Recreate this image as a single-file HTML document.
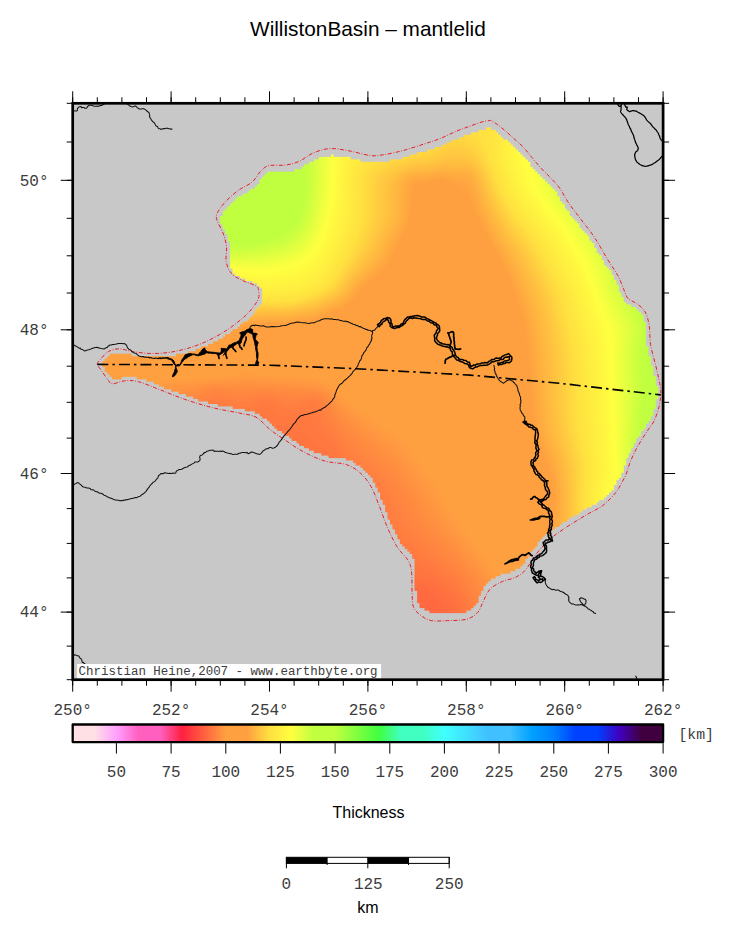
<!DOCTYPE html>
<html><head><meta charset="utf-8"><title>WillistonBasin - mantlelid</title>
<style>
html,body{margin:0;padding:0;background:#fff;overflow:hidden}
svg{display:block}
.mono{font-family:'Liberation Mono','DejaVu Sans Mono',monospace;font-size:16px;fill:#3c3c3c}
.sans{font-family:'Liberation Sans','DejaVu Sans',sans-serif;fill:#000}
</style></head><body>
<svg width="731" height="934" viewBox="0 0 731 934">
<defs>
<clipPath id="frame"><rect x="72.7" y="103.3" width="590.4" height="576.4"/></clipPath>
<clipPath id="basin"><rect x="486" y="127.4" width="4.9" height="3.5"/><rect x="478.6" y="129.9" width="17.2" height="3.5"/><rect x="471.2" y="132.3" width="27.1" height="3.5"/><rect x="463.8" y="134.8" width="36.9" height="3.5"/><rect x="458.9" y="137.2" width="44.3" height="3.5"/><rect x="451.5" y="139.7" width="56.6" height="3.5"/><rect x="446.6" y="142.2" width="64" height="3.5"/><rect x="441.7" y="144.6" width="71.3" height="3.5"/><rect x="434.3" y="147.1" width="81.2" height="3.5"/><rect x="426.9" y="149.5" width="91" height="3.5"/><rect x="417.1" y="152" width="103.3" height="3.5"/><rect x="331" y="154.5" width="2.5" height="3.5"/><rect x="409.7" y="154.5" width="113.2" height="3.5"/><rect x="318.7" y="156.9" width="32" height="3.5"/><rect x="402.3" y="156.9" width="123" height="3.5"/><rect x="313.8" y="159.4" width="46.7" height="3.5"/><rect x="390" y="159.4" width="137.8" height="3.5"/><rect x="308.9" y="161.8" width="221.4" height="3.5"/><rect x="303.9" y="164.3" width="226.3" height="3.5"/><rect x="301.5" y="166.8" width="231.2" height="3.5"/><rect x="294.1" y="169.2" width="241.1" height="3.5"/><rect x="267" y="171.7" width="270.6" height="3.5"/><rect x="264.6" y="174.1" width="275.5" height="3.5"/><rect x="262.1" y="176.6" width="280.4" height="3.5"/><rect x="259.7" y="179.1" width="285.4" height="3.5"/><rect x="259.7" y="181.5" width="287.8" height="3.5"/><rect x="257.2" y="184" width="292.7" height="3.5"/><rect x="254.7" y="186.4" width="297.7" height="3.5"/><rect x="249.8" y="188.9" width="305" height="3.5"/><rect x="247.4" y="191.4" width="310" height="3.5"/><rect x="242.4" y="193.8" width="314.9" height="3.5"/><rect x="237.5" y="196.3" width="322.3" height="3.5"/><rect x="235.1" y="198.7" width="324.7" height="3.5"/><rect x="232.6" y="201.2" width="329.6" height="3.5"/><rect x="230.1" y="203.7" width="334.6" height="3.5"/><rect x="227.7" y="206.1" width="337" height="3.5"/><rect x="225.2" y="208.6" width="341.9" height="3.5"/><rect x="222.8" y="211" width="346.9" height="3.5"/><rect x="222.8" y="213.5" width="346.9" height="3.5"/><rect x="220.3" y="216" width="351.8" height="3.5"/><rect x="220.3" y="218.4" width="354.2" height="3.5"/><rect x="220.3" y="220.9" width="356.7" height="3.5"/><rect x="222.8" y="223.3" width="356.7" height="3.5"/><rect x="222.8" y="225.8" width="356.7" height="3.5"/><rect x="225.2" y="228.3" width="356.7" height="3.5"/><rect x="225.2" y="230.7" width="359.2" height="3.5"/><rect x="227.7" y="233.2" width="359.2" height="3.5"/><rect x="227.7" y="235.6" width="361.6" height="3.5"/><rect x="227.7" y="238.1" width="361.6" height="3.5"/><rect x="230.1" y="240.6" width="361.6" height="3.5"/><rect x="230.1" y="243" width="364.1" height="3.5"/><rect x="230.1" y="245.5" width="364.1" height="3.5"/><rect x="230.1" y="247.9" width="366.5" height="3.5"/><rect x="230.1" y="250.4" width="366.5" height="3.5"/><rect x="230.1" y="252.9" width="369" height="3.5"/><rect x="230.1" y="255.3" width="371.5" height="3.5"/><rect x="230.1" y="257.8" width="371.5" height="3.5"/><rect x="230.1" y="260.2" width="373.9" height="3.5"/><rect x="230.1" y="262.7" width="373.9" height="3.5"/><rect x="230.1" y="265.2" width="376.4" height="3.5"/><rect x="232.6" y="267.6" width="376.4" height="3.5"/><rect x="232.6" y="270.1" width="378.8" height="3.5"/><rect x="235.1" y="272.5" width="376.4" height="3.5"/><rect x="240" y="275" width="373.9" height="3.5"/><rect x="244.9" y="277.5" width="369" height="3.5"/><rect x="252.3" y="279.9" width="364.1" height="3.5"/><rect x="257.2" y="282.4" width="359.2" height="3.5"/><rect x="259.7" y="284.8" width="359.2" height="3.5"/><rect x="262.1" y="287.3" width="356.7" height="3.5"/><rect x="262.1" y="289.8" width="356.7" height="3.5"/><rect x="262.1" y="292.2" width="359.2" height="3.5"/><rect x="262.1" y="294.7" width="359.2" height="3.5"/><rect x="262.1" y="297.1" width="361.6" height="3.5"/><rect x="262.1" y="299.6" width="361.6" height="3.5"/><rect x="262.1" y="302.1" width="364.1" height="3.5"/><rect x="259.7" y="304.5" width="371.5" height="3.5"/><rect x="257.2" y="307" width="378.8" height="3.5"/><rect x="254.7" y="309.4" width="383.8" height="3.5"/><rect x="254.7" y="311.9" width="386.2" height="3.5"/><rect x="252.3" y="314.4" width="391.1" height="3.5"/><rect x="249.8" y="316.8" width="393.6" height="3.5"/><rect x="247.4" y="319.3" width="396.1" height="3.5"/><rect x="242.4" y="321.7" width="403.4" height="3.5"/><rect x="240" y="324.2" width="405.9" height="3.5"/><rect x="237.5" y="326.7" width="408.4" height="3.5"/><rect x="232.6" y="329.1" width="413.3" height="3.5"/><rect x="230.1" y="331.6" width="415.7" height="3.5"/><rect x="225.2" y="334" width="420.7" height="3.5"/><rect x="222.8" y="336.5" width="423.1" height="3.5"/><rect x="217.8" y="339" width="428" height="3.5"/><rect x="212.9" y="341.4" width="433" height="3.5"/><rect x="208" y="343.9" width="437.9" height="3.5"/><rect x="200.6" y="346.3" width="447.7" height="3.5"/><rect x="195.7" y="348.8" width="452.6" height="3.5"/><rect x="188.3" y="351.3" width="460" height="3.5"/><rect x="109.6" y="353.7" width="22.1" height="3.5"/><rect x="176" y="353.7" width="472.3" height="3.5"/><rect x="107.1" y="356.2" width="543.7" height="3.5"/><rect x="104.7" y="358.6" width="546.1" height="3.5"/><rect x="102.2" y="361.1" width="548.6" height="3.5"/><rect x="102.2" y="363.6" width="548.6" height="3.5"/><rect x="104.7" y="366" width="548.6" height="3.5"/><rect x="104.7" y="368.5" width="548.6" height="3.5"/><rect x="107.1" y="370.9" width="546.1" height="3.5"/><rect x="109.6" y="373.4" width="543.7" height="3.5"/><rect x="112.1" y="375.9" width="9.8" height="3.5"/><rect x="136.7" y="375.9" width="519.1" height="3.5"/><rect x="146.5" y="378.3" width="509.2" height="3.5"/><rect x="153.9" y="380.8" width="501.8" height="3.5"/><rect x="158.8" y="383.2" width="496.9" height="3.5"/><rect x="163.7" y="385.7" width="494.5" height="3.5"/><rect x="171.1" y="388.2" width="487.1" height="3.5"/><rect x="178.5" y="390.6" width="479.7" height="3.5"/><rect x="185.9" y="393.1" width="472.3" height="3.5"/><rect x="193.2" y="395.5" width="464.9" height="3.5"/><rect x="198.2" y="398" width="457.6" height="3.5"/><rect x="208" y="400.5" width="447.7" height="3.5"/><rect x="217.8" y="402.9" width="437.9" height="3.5"/><rect x="232.6" y="405.4" width="423.1" height="3.5"/><rect x="244.9" y="407.8" width="408.4" height="3.5"/><rect x="254.7" y="410.3" width="398.5" height="3.5"/><rect x="259.7" y="412.8" width="393.6" height="3.5"/><rect x="262.1" y="415.2" width="388.7" height="3.5"/><rect x="267" y="417.7" width="383.8" height="3.5"/><rect x="269.5" y="420.1" width="378.8" height="3.5"/><rect x="272" y="422.6" width="373.9" height="3.5"/><rect x="274.4" y="425.1" width="371.5" height="3.5"/><rect x="276.9" y="427.5" width="366.5" height="3.5"/><rect x="281.8" y="430" width="359.2" height="3.5"/><rect x="284.3" y="432.4" width="356.7" height="3.5"/><rect x="289.2" y="434.9" width="349.3" height="3.5"/><rect x="291.6" y="437.4" width="344.4" height="3.5"/><rect x="296.6" y="439.8" width="339.5" height="3.5"/><rect x="299" y="442.3" width="334.6" height="3.5"/><rect x="303.9" y="444.7" width="329.6" height="3.5"/><rect x="308.9" y="447.2" width="322.3" height="3.5"/><rect x="313.8" y="449.7" width="317.3" height="3.5"/><rect x="321.2" y="452.1" width="307.5" height="3.5"/><rect x="328.5" y="454.6" width="300.1" height="3.5"/><rect x="345.8" y="457" width="280.4" height="3.5"/><rect x="353.1" y="459.5" width="273.1" height="3.5"/><rect x="355.6" y="462" width="270.6" height="3.5"/><rect x="360.5" y="464.4" width="263.2" height="3.5"/><rect x="363" y="466.9" width="260.8" height="3.5"/><rect x="365.4" y="469.3" width="258.3" height="3.5"/><rect x="367.9" y="471.8" width="253.4" height="3.5"/><rect x="370.4" y="474.3" width="250.9" height="3.5"/><rect x="372.8" y="476.7" width="246" height="3.5"/><rect x="372.8" y="479.2" width="243.5" height="3.5"/><rect x="375.3" y="481.6" width="241.1" height="3.5"/><rect x="375.3" y="484.1" width="238.6" height="3.5"/><rect x="377.7" y="486.6" width="236.2" height="3.5"/><rect x="377.7" y="489" width="233.7" height="3.5"/><rect x="380.2" y="491.5" width="228.8" height="3.5"/><rect x="380.2" y="493.9" width="226.3" height="3.5"/><rect x="380.2" y="496.4" width="223.9" height="3.5"/><rect x="382.7" y="498.9" width="216.5" height="3.5"/><rect x="382.7" y="501.3" width="214" height="3.5"/><rect x="385.1" y="503.8" width="206.6" height="3.5"/><rect x="385.1" y="506.2" width="201.7" height="3.5"/><rect x="385.1" y="508.7" width="196.8" height="3.5"/><rect x="387.6" y="511.2" width="191.9" height="3.5"/><rect x="387.6" y="513.6" width="187" height="3.5"/><rect x="387.6" y="516.1" width="182" height="3.5"/><rect x="390" y="518.5" width="177.1" height="3.5"/><rect x="390" y="521" width="172.2" height="3.5"/><rect x="392.5" y="523.5" width="167.3" height="3.5"/><rect x="392.5" y="525.9" width="162.4" height="3.5"/><rect x="395" y="528.4" width="157.4" height="3.5"/><rect x="395" y="530.8" width="155" height="3.5"/><rect x="397.4" y="533.3" width="147.6" height="3.5"/><rect x="397.4" y="535.8" width="145.1" height="3.5"/><rect x="399.9" y="538.2" width="140.2" height="3.5"/><rect x="399.9" y="540.7" width="137.8" height="3.5"/><rect x="402.3" y="543.1" width="135.3" height="3.5"/><rect x="404.8" y="545.6" width="130.4" height="3.5"/><rect x="407.3" y="548.1" width="125.5" height="3.5"/><rect x="409.7" y="550.5" width="120.5" height="3.5"/><rect x="412.2" y="553" width="118.1" height="3.5"/><rect x="412.2" y="555.4" width="115.6" height="3.5"/><rect x="414.6" y="557.9" width="110.7" height="3.5"/><rect x="414.6" y="560.4" width="110.7" height="3.5"/><rect x="414.6" y="562.8" width="108.2" height="3.5"/><rect x="414.6" y="565.3" width="105.8" height="3.5"/><rect x="414.6" y="567.7" width="100.9" height="3.5"/><rect x="414.6" y="570.2" width="95.9" height="3.5"/><rect x="414.6" y="572.7" width="86.1" height="3.5"/><rect x="414.6" y="575.1" width="81.2" height="3.5"/><rect x="414.6" y="577.6" width="76.3" height="3.5"/><rect x="414.6" y="580" width="73.8" height="3.5"/><rect x="414.6" y="582.5" width="71.3" height="3.5"/><rect x="414.6" y="585" width="68.9" height="3.5"/><rect x="414.6" y="587.4" width="68.9" height="3.5"/><rect x="417.1" y="589.9" width="64" height="3.5"/><rect x="417.1" y="592.3" width="64" height="3.5"/><rect x="417.1" y="594.8" width="61.5" height="3.5"/><rect x="417.1" y="597.3" width="61.5" height="3.5"/><rect x="417.1" y="599.7" width="61.5" height="3.5"/><rect x="419.6" y="602.2" width="56.6" height="3.5"/><rect x="419.6" y="604.6" width="54.1" height="3.5"/><rect x="424.5" y="607.1" width="46.7" height="3.5"/><rect x="429.4" y="609.6" width="36.9" height="3.5"/></clipPath>
<linearGradient id="cpt" x1="0" x2="1" y1="0" y2="0"><stop offset="0.0000" stop-color="#ffe0e4"/><stop offset="0.0370" stop-color="#ffe0e4"/><stop offset="0.0741" stop-color="#ffa0ff"/><stop offset="0.1111" stop-color="#ff60c0"/><stop offset="0.1481" stop-color="#ff60c0"/><stop offset="0.1852" stop-color="#ff2040"/><stop offset="0.2222" stop-color="#ff6040"/><stop offset="0.2593" stop-color="#ffa040"/><stop offset="0.2963" stop-color="#ffa040"/><stop offset="0.3333" stop-color="#ffe040"/><stop offset="0.3704" stop-color="#ffff40"/><stop offset="0.4074" stop-color="#c0ff40"/><stop offset="0.4444" stop-color="#c0ff40"/><stop offset="0.4815" stop-color="#80ff40"/><stop offset="0.5185" stop-color="#40ff40"/><stop offset="0.5556" stop-color="#40ffc0"/><stop offset="0.5926" stop-color="#40ffc0"/><stop offset="0.6296" stop-color="#40ffff"/><stop offset="0.6667" stop-color="#40e0ff"/><stop offset="0.7037" stop-color="#40c0ff"/><stop offset="0.7407" stop-color="#40c0ff"/><stop offset="0.7778" stop-color="#00a0ff"/><stop offset="0.8148" stop-color="#0080ff"/><stop offset="0.8519" stop-color="#0040ff"/><stop offset="0.8889" stop-color="#0040ff"/><stop offset="0.9259" stop-color="#4000c0"/><stop offset="0.9630" stop-color="#400040"/><stop offset="1.0000" stop-color="#400040"/></linearGradient>
</defs>
<rect width="731" height="934" fill="#fff"/>
<text class="sans" x="367.9" y="35.6" text-anchor="middle" font-size="20.8">WillistonBasin – mantlelid</text>
<rect x="72.7" y="103.3" width="590.4" height="576.4" fill="#c8c8c8"/>
<g clip-path="url(#basin)"><rect x="72.7" y="103.3" width="590.4" height="576.4" fill="#ff5440"/><path fill="#ff3b40" d="M60 95L675 95L675 689L60 689Z"/><path fill="#ff3e40" d="M60 95L675 95L675 689L60 689Z"/><path fill="#ff4240" d="M60 95L675 95L675 689L60 689Z"/><path fill="#ff4540" d="M60 95L675 95L675 689L60 689Z"/><path fill="#ff4840" d="M60 95L675 95L675 689L60 689Z"/><path fill="#ff4b40" d="M60 95L675 95L675 689L60 689Z"/><path fill="#ff4e40" d="M60 95L675 95L675 689L60 689Z"/><path fill="#ff5240" d="M60 95L675 95L675 689L60 689Z"/><path fill="#ff5540" d="M60 95L675 95L675 689L60 689Z"/><path fill="#ff5840" d="M60 95L675 95L675 689L284.5 689L285.8 686L294 674.2L297.5 668L300.3 662L303.2 653L304.4 644L304.2 638L303 630.5L300.7 623L296.4 614L288.5 602L280.7 593L273 585.9L264 579.6L255 575.3L246 572.8L240 572.3L234 572.5L225 574.6L219 577L212 581L204.1 587L198 592.9L192 599.7L185.9 608L180.3 617L175.6 626L171 636.7L167.5 647L165 656.8L163.2 668L162.6 677L163 689L60 689Z"/><path fill="#ff5b40" d="M60 95L675 95L675 689L320.7 689L321.7 686L328.4 674L332.6 665L335.6 656L337.2 647L337.1 638L336.1 632L333.1 623L328.6 614L318.9 599L306 582.3L294 568.9L282 557.7L270 549.1L258 543.1L246 539.8L237 539.2L228 540.1L219 542.5L210 546.4L202.3 551L195 556.4L186 564.3L177 573.6L168 584.5L159.7 596L152.1 608L144 622.5L138 635L131.8 650L126.7 665L122.9 680L121.5 689L60 689Z"/><path fill="#ff5e40" d="M60 95L675 95L675 689L345.7 689L346.7 686L354.7 671L358.7 662L361.7 653L363 647L363.3 638L362.3 632L360.3 626L355.5 617L344.6 602L315 565.2L300 548.3L288 536.9L276 527.9L263.4 521L255 517.9L249 516.4L237 515.1L231 515.4L222 516.9L216 518.7L207 522.6L198 527.7L190.4 533L182.9 539L173.1 548L159.1 563L147 578L134.2 596L122.9 614L111.4 635L102.9 653L94.5 674L91.4 683L90.1 689L60 689Z"/><path fill="#ff6240" d="M60 95L675 95L675 689L365.4 689L367.9 683L374.5 671L380.4 659L384 650L385.7 644L386.6 638L386.5 632L384.8 626L381.4 620L376.5 614L348 583.3L311.9 539L303 529.3L294 520.8L282 511.4L273.2 506L267 502.9L259.6 500L252 497.8L246 496.6L237 495.8L225 496.7L216 498.9L205.6 503L195 508.8L185.9 515L174 524.6L162 535.7L150.2 548L137.3 563L125.4 578L114.5 593L102.5 611L91.5 629L81.6 647L72.6 665L61.7 689L60 689Z"/><path fill="#ff6540" d="M60 95L675 95L675 689L381.6 689L384.1 683L398.9 656L405.7 641L407.8 635L409.1 629L408.9 623L407.8 620L405.6 617L402.4 614L387 603.4L378 596.5L363 582.4L348.6 566L318 526.5L307.6 515L297 505.1L285 496L270 487.8L255 482.5L240 479.9L231 479.8L222 480.9L213 483.2L204 486.8L195 491.5L183 499.3L174 506.2L162 516.5L150 527.9L138 540.4L113.3 569L88.4 602L63 639.9L60 642.5Z"/><path fill="#ff6840" d="M60 95L675 95L675 689L395.3 689L397.6 683L417 647.9L426.4 629L429.3 620L429.2 614L427.9 611L425.5 608L420.3 605L405 600.3L393 594.4L384 588.2L375.7 581L366.8 572L356.7 560L333 527.5L321 512.4L309 499.6L297 489.2L285 481.1L273 475L258 469.7L243 466.6L234 465.9L225 466.4L219 467.4L209.7 470L201 473.6L191 479L180 486.2L169.7 494L158.8 503L145.7 515L122 539L93.1 572L63 610.1L60 612.3Z"/><path fill="#ff6b40" d="M60 95L675 95L675 689L407 689L409.2 683L429 646.2L438.9 626L441.1 620L441.8 614L441.2 611L439.5 608L435 603.1L429 598.9L423 596.5L408 592.2L399 588.1L390 582L381.9 575L373.2 566L363.2 554L339 518.9L330 507.1L315.5 491L303 479.7L291 471.4L276.2 464L261 458.7L246 455.2L237 454.1L228 453.9L219 455L213 456.4L204 459.6L195 463.9L184.6 470L174 477.2L152.8 494L126.6 518L97.5 548L63 586.9L60 588.9Z"/><path fill="#ff6e40" d="M60 95L675 95L675 689L417.1 689L419.3 683L441 639.5L447 625L448.4 620L449.1 614L447.6 608L445.8 605L441 599.4L435 594.7L429 591.7L411 586.1L405 583.4L396.9 578L387 569.2L378 559.6L368.8 548L348 515.7L338.7 503L321 482.9L307.2 470L294 461.1L282 455.3L264 449.2L246 444.8L237 443.5L228 443.2L219 444L213 445.4L204 448.4L196.2 452L177 463.4L153 481.3L127.8 503L99.5 530L63 567.7L60 569.5Z"/><path fill="#ff7240" d="M60 95L675 95L675 689L426.1 689L428.1 683L447 641.7L452.7 626L454.1 620L454.6 614L453.4 608L450.2 602L444 594.7L438 589.8L429 585.4L414 580.7L408.1 578L402 573.5L393 565L382.8 554L375 543.9L368 533L355.8 512L347.3 500L324 473.2L312 461.7L300 453.5L285 446.1L275.4 443L249 436L240 434.5L231 433.7L222 433.9L216 434.8L210 436.4L201 439.8L183 449.3L161.2 464L134.5 485L100.7 515L63 551.2L60 552.8Z"/><path fill="#ff7540" d="M60 95L675 95L675 689L434.2 689L436 683L453 641.9L456.3 632L458.5 623L459.4 617L459.3 611L457.4 605L453.8 599L445.9 590L438 583.9L429 579.4L416.8 575L410.9 572L405 567.1L393 555.1L386.7 548L379.9 539L374.5 530L363.5 509L357.6 500L324 460.9L318 454.8L310 449L291 438.4L285 436.2L267 432.3L255 428.8L246 427L234 425.6L225 425.2L219 425.6L213 426.7L204 429.8L186 438.6L164.7 452L136.2 473L103.7 500L63 536.6L60 538.1Z"/><path fill="#ff7840" d="M60 95L675 95L675 689L441.5 689L443.2 683L456 649.3L461.9 629L463.5 620L463.9 614L463.2 608L460.7 602L453 591.2L444 582.6L435 576.5L414 565.3L408 560.3L398.3 551L390 541.9L383.7 533L370.6 506L365.2 497L360.3 491L339 467.8L324 448.4L318 443.5L306.5 437L297 429.8L291 427.5L285 426.3L270 424.9L258 420.4L228 417.8L222 417.6L216 418.2L204 421.9L192 427.5L180 434L165.4 443L147.8 455L116.1 479L94.2 497L63 523.6L60 525Z"/><path fill="#ff7b40" d="M60 95L675 95L675 689L448.2 689L449.8 683L461 650L466.3 629L467.8 614L467.2 608L465 601.9L459 592.3L450 582.2L438 572.6L420 561L414 556.5L402 545.6L393.1 536L387.5 527L377.3 503L372.4 494L367.3 488L343.9 464L339.2 458L330 443.6L327 440L316 431L313.5 428L312.3 425L310.5 416L309 414.1L297 417.1L291 417.3L285 416.6L279 414.9L276 413.2L270.4 407L267 405.5L264 406L255 411.3L249 412.8L240 412.7L219 410.7L213 411.6L207 413.7L189.2 422L177.9 428L148.9 446L115.4 470L66 509.6L60 513Z"/><path fill="#ff7e40" d="M60 95L675 95L675 689L454.5 689L465.9 650L470.4 629L471.3 620L471.2 611L470 605L467.5 599L464 593L459.6 587L451.3 578L441 569.1L417 550.8L407.4 542L398.8 533L396 529.3L393.1 524L381.9 497L378.7 491L373.5 485L351 463.4L343.9 455L334.3 440L324.6 428L322.7 425L320.7 419L318.5 407L316.5 404L315 403L312 402.7L309 403.5L297 409.2L291 410.1L285 409L270.5 401L267 400.3L262.3 401L252 405.9L246 407.2L234 406.7L219 404.4L213 404.9L177 421.9L151.4 437L120 458L95.5 476L66 498.9L60 502.1Z"/><path fill="#ff8240" d="M60 95L675 95L675 689L460.4 689L470.5 650L474.3 629L474.9 620L474.5 611L473.4 605L469.8 596L462 584.1L453.9 575L444 565.8L419.3 545L404.8 530L398.9 521L387 494.1L383.5 488L378 481.5L356.3 461L348.2 452L328.8 425L325.8 419L320.7 404L318.1 401L315 399.7L312 399.4L309 399.9L297 403.9L291 404.7L285 403.6L273 398.6L267 397.3L261 397.9L249 401.7L243 402.4L231 401.8L216 398.2L213 398.8L201 405.4L183.4 413L171.2 419L145.2 434L117.3 452L95.8 467L66 488.9L60 492.1Z"/><path fill="#ff8540" d="M60 95L675 95L675 689L466 689L474.9 650L477 637.7L478.2 626L478.3 617L477.3 608L474.8 599L472 593L466.4 584L459 574.9L447 562.8L421.2 539L410.5 527L404.6 518L392.9 494L387.6 485L381 477.1L357.6 455L351 447.6L331.8 422L328.6 416L323.6 404L321 400.5L317.4 398L315 397.2L309 397.2L297 399.9L291 400.3L285 399.4L273 395.8L267 394.8L261 395.2L249 397.6L240 398.3L231 397.8L225 396.5L219 394.4L216 393.9L213 394.3L198 402.4L183 408.1L172 413L144.6 428L115.1 446L66 479.7L60 482.7Z"/><path fill="#ff8840" d="M60 95L675 95L675 689L471.3 689L479.1 650L480.8 638L481.7 626L481.6 617L480.6 608L478.2 599L474.2 590L468.6 581L461.4 572L428.6 539L417.9 527L409.7 515L397 491L390 480.1L381 470L361.6 452L354 444L336 421.9L332.2 416L324.3 401L321.4 398L318 396L312 394.8L291 396.7L270 392.8L264 392.5L246 394.4L234 394.6L228 393.9L219 391.4L213 391.2L210 392.2L198 398.6L174 407L144.7 422L113.6 440L66 471.2L60 474Z"/><path fill="#ff8b40" d="M60 95L675 95L675 689L476.4 689L483 651.4L484.5 638L485.2 626L484.6 614L483.2 605L480.5 596L476.4 587L471 578.3L465 570.6L432.6 536L422.5 524L414.4 512L399.1 485L390.4 473L382 464L363 446.8L354 437.6L337.9 419L333 411.6L326.9 401L324 397.6L321 395.3L318 393.9L312 392.9L291 393.5L273 391L264 390.3L231 391.3L219 389L212.3 389L198 395.1L180 400.2L174 402.3L151.7 413L117.9 431L97.7 443L66 463.1L60 465.8Z"/><path fill="#ff8e40" d="M60 95L675 95L675 689L481.3 689L487.1 650L488.4 635L488.5 623L487.5 611L485.7 602L482.8 593L478.6 584L474 576.5L468 568.7L436.2 533L426.7 521L418.8 509L402.8 482L393 468.6L384 459.2L360 437.9L345 422.4L336 411.5L327 397.9L324 395L318.1 392L312 390.9L291 390.6L264 388.1L231 388.6L216 386.8L210 387.5L195 392.9L177 397L160.5 404L117.8 425L96.6 437L66 455.5L60 458.1Z"/><path fill="#ff9240" d="M60 95L675 95L675 689L486 689L491 650L491.9 635L491.8 623L490.7 611L488.9 602L485.1 590L480.8 581L477 574.8L471 566.7L442.2 533L432.7 521L424.6 509L408.4 482L396 464.8L387 455.5L366 437.8L348 420.8L339 411.2L329.8 398L327 395L321 391L318 390L312 389L261 385.7L246 385.4L228 386.2L216 385L210 385.5L195 390L177 393L165 397.6L118.5 419L96 431L66 448.3L60 450.8Z"/><path fill="#ff9540" d="M60 95L675 95L675 689L490.6 689L494.9 647L495.3 632L494.9 620L493.4 608L491.4 599L487.4 587L483 577.9L475 566L447.8 533L436.3 518L430.3 509L413.9 482L399 460.9L390.3 452L366 432.5L348 416.4L339 407.2L330 395L326.7 392L321 388.9L315 387.4L291 385.4L255 383L246 382.8L228 384L213 383.4L195 387.3L177 389.5L169.1 392L120 413L96 425L66 441.5L60 443.9Z"/><path fill="#ff9840" d="M60 95L675 95L675 689L495.1 689L498.4 650L498.7 635L498.1 620L496.5 608L493.8 596L489.7 584L485.3 575L479.4 566L455.4 536L441.8 518L433.8 506L421.3 485L405 460.9L400.4 455L394.3 449L369 429.8L345 409.8L339.4 404L333 395.2L330.1 392L324 387.9L321 386.7L315 385.4L294 383.1L270 382.1L249 380.3L240 380.6L228 382L213 381.7L195 384.8L177 386.3L168 388.9L117 409.3L96.5 419L66 435L60 437.3Z"/><path fill="#ff9b40" d="M60 95L675 95L675 689L499.5 689L502 650L502.1 635L501.2 620L499.1 605L496.2 593L492 581L487.7 572L481.6 563L469.5 548L445 515L437.2 503L426.7 485L404.4 452L398.3 446L375 429.5L345 406.1L340.1 401L333 391.7L330 389L324 385.5L318 383.8L294 380.7L285 380.1L270 380L258 378.3L249 377.7L240 378.2L225 380.1L213 380L195 382.5L174 384L167.2 386L117 404.4L97.7 413L66 428.9L60 431Z"/><path fill="#ff9e40" d="M60 95L675 95L675 689L503.8 689L505.6 647L505.3 632L504.1 617L501.6 602L498.6 590L494.4 578L490 569L486 562.8L474.2 548L448 512L440.4 500L432 485L420 468.2L410.4 452L405.9 446L399 440.6L378 426.8L348 404.7L342 399.2L333.9 389L327 384.3L318 381.6L294 378.2L285 377.6L270 377.6L258 375.8L249 375.2L240 375.8L225 378.1L213 378.3L195 380.4L174 381.4L167.4 383L114 400.9L92.9 410L66 423L60 425Z"/><path fill="#ffa040" d="M60 95L675 95L675 689L508 689L509.1 647L508.6 632L507.2 617L504.7 602L501 587.2L496.8 575L492.3 566L488.5 560L477 545.3L450.9 509L435 482L421.9 464L413.9 449L409.9 443L405 439L381 424.1L360 408.8L348 400.7L345 398L336 387.3L333 384.9L327 381.5L321 379.7L294 375.7L285 375L270 375.1L252 372.7L240 373.3L222 376.3L213 376.5L195 378.3L174 378.9L168 380.1L150 385.9L127.6 392L114 396.4L95 404L66 417.3L60 419.2Z"/><path fill="#ffa540" d="M60 95L675 95L675 689L589.4 689L585.9 674L561.5 587L554.7 557L552.7 542L552.1 530L552.7 518L554.8 503L554.8 497L550.7 470L549 464.6L538.9 440L535.5 428L534.1 416L532.9 392L529.6 353L523.6 317L510.6 278L486.6 233L474.4 209L468 193.7L465 189.3L462 187.2L450 181.3L444.2 179L441 178.5L438 178.7L429 180.9L417 182.7L414 184.1L411.9 188L409.7 212L408.8 218L407.1 224L400.3 239L389.2 260L385.5 266L377.6 275L362.3 287L359.6 290L353.3 299L348 304.1L342 307.8L318 317.8L312 319.3L300 320.6L288 322.7L282 323L270 322.4L252 324.1L216 331.3L198 333.5L183 333.7L108 330.9L60 332.1Z"/><path fill="#ffa840" d="M60 95L675 95L675 689L593.3 689L590.4 677L564.2 587L557.1 557L555 542L554.3 530L554.8 518L556.6 503L556.3 494L553.5 473L552.1 467L541.5 440L538 428L536.6 416L535.2 389L532.1 353L529.1 332L526.2 317L513.3 278L490.5 236L478.5 212L476 206L472.3 194L468 184.2L465 181.8L459 181.5L447 177.5L441 176.4L426 179.2L417 180L414 180.6L411.3 182L409.5 185L408.8 188L407.5 212L405.8 221L399.3 236L388.2 257L384 263.9L380.1 269L375 274.2L360 286.5L353.2 296L347.6 302L339 307.2L318 316.1L312 317.7L288 321.3L267 321.2L249.3 323L216 329.5L198 331.5L180 331.6L105 328.2L60 328.7Z"/><path fill="#ffab40" d="M60 95L675 95L675 689L597.1 689L595 680L567.7 590L562.8 572L559.5 557L557.6 545L556.5 533L556.6 521L558.6 500L555 470L553.3 464L543.9 440L540.5 428L539 416L537.1 383L534.2 350L531.2 329L528.1 314L515.7 278L510 266.6L492.8 236L482.4 215L478.6 206L475.3 194L471 182.5L468.6 179L465 177.6L456 177.6L447 175.2L441 174.5L426 177.4L414 178.3L411 179.4L408.2 182L406.2 188L405.3 212L403.5 221L396.8 236L385.6 257L381.9 263L374.1 272L360 284L351 296L345 301.8L339 305.4L318 314.5L312 316.2L288 319.9L267 319.9L252 321.3L216 327.6L198 329.5L177 329.4L102 325.5L60 325.4Z"/><path fill="#ffae40" d="M60 95L675 95L675 689L601 689L598.8 680L570 589L564.5 569L561.2 554L558.7 533L558.6 521L560.2 500L557.8 476L555.3 464L545.3 437L542.4 425L541.2 413L538.9 374L536.2 347L533.7 329L530.5 314L527.7 305L516.8 275L510 262L494.9 236L484.5 215L480.8 206L477 192.2L473.1 182L471 178L468 175.5L465 174.8L456 175L447 173.2L441 172.8L426 175.6L414 176.4L408.3 179L405.8 182L403.9 188L403.2 197L403.1 212L401.3 221L395.9 233L381.3 260L374.1 269L357.9 284L348.9 296L345 299.7L339 303.7L318 313L309 315.4L288 318.6L267 318.7L252 319.9L213 326.2L195 327.7L174 327.3L102 322.8L60 322.1Z"/><path fill="#ffb240" d="M60 95L675 95L675 689L604.9 689L602.6 680L573 590.2L567.7 572L563.5 554L561.6 542L560.5 530L560.6 518L561.7 500L559.7 476L557.3 464L547.6 437L544.8 425L543.3 410L541.1 371L538.3 344L536.1 329L533 314L530.3 305L519.1 275L511.4 260L497 236L488.1 218L482.9 206L479.5 194L473.8 179L471 175.2L468 173.3L465 172.6L456 172.6L447 171.3L441 171.1L429 173.6L414 174.8L410.1 176L405.7 179L403.5 182L401.5 188L400.8 197L401 212L399.1 221L393.5 233L382.5 254L378.8 260L371.2 269L357 282.7L348 294.6L343.4 299L336 303.6L315 312.6L309 314.1L288 317.3L267 317.5L252 318.6L213 324.4L195 325.7L171 325.1L99 320L60 318.8Z"/><path fill="#ffb540" d="M60 95L675 95L675 689L608.8 689L606.4 680L575.6 590L569.4 569L565.2 551L562.5 530L562.4 518L563.2 497L561.1 473L558.4 461L549.9 437L547.1 425L545.4 407L542.9 365L539.5 335L535.4 314L531.7 302L520 272L512.1 257L499.2 236L493 224L484.8 206L480.3 191L476.9 182L474 176.2L471.1 173L468 171.3L465 170.6L441 169.5L429 172.1L414 173.3L408 175.4L405 177.5L401.3 182L399.2 188L398.3 197L398.7 212L396.8 221L392.6 230L378.4 257L371.3 266L357 280.4L348 292.3L344.6 296L341 299L336 302L315 311.3L309 312.8L288 316.2L267 316.4L252 317.3L213 322.6L195 323.8L174 323.3L102 317.5L60 315.5Z"/><path fill="#ffb840" d="M60 95L675 95L675 689L612.8 689L610.2 680L578.2 590L571.8 569L567.4 551L565.4 539L564.3 527L564.7 497L562.8 473L560.3 461L552.2 437L549.4 425L547 398L545.6 368L543.1 344L540.4 326L537 311L534 301.6L522.3 272L513 254.5L501 235.4L493.5 221L486.7 206L478.5 182L475.6 176L473.4 173L469.3 170L465 168.6L444 167.6L429 170.6L414 171.9L408 173.8L404.2 176L401.1 179L399 182L396.8 188L395.9 197L396.5 212L396 216L394.5 221L379.7 251L376 257L368.7 266L357 278.3L348 290L342.5 296L338.5 299L333.1 302L315 310L306 312.2L288 315L267 315.3L249 316.3L213 320.9L195 321.9L171 321.1L99 314.6L60 312.2Z"/><path fill="#ffbb40" d="M60 95L675 95L675 689L616.7 689L615.2 683L579.9 587L573.3 566L568.9 548L566.1 527L566.2 497L564.6 473L562.2 461L553.5 434L551.7 425L549.2 398L548.4 374L547.5 362L544.3 335L539.3 311L535.5 299L524.5 272L516.8 257L503.5 236L493.9 218L488.4 206L480 181.8L477.3 176L474 171.4L471 168.9L465 166.5L444 165.8L429 169.1L417 170L411 171.2L406.3 173L401.7 176L398.6 179L396.6 182L394.2 188L393.4 197L394.2 212L393.3 218L390.8 224L375.7 254L368.9 263L354 279.5L346.3 290L342 294.6L333 300.7L315 308.7L306 311L288 313.8L249 315L213 319.1L195 320L168 318.9L99 312L60 309Z"/><path fill="#ffbe40" d="M60 95L675 95L675 689L620.8 689L619.1 683L583.5 590L576 567.1L571.1 548L568.9 536L567.7 524L567.5 494L566.3 473L564 460.6L556.6 437L554.4 428L551.4 398L550.6 371L549.3 356L546 331.4L540.8 308L536.8 296L525.4 269L517.4 254L504 233.1L495.8 218L490.2 206L480.3 179L477.1 173L474 169.2L471 166.8L465 164.4L447 163.6L441 164.4L429 167.7L417 168.5L411 169.7L405 172.1L399 176L394 182L391.6 188L390.8 197L391.9 212L390.9 218L376.8 248L373.4 254L366.4 263L354 277.3L345 289.4L341.8 293L338.2 296L333 299.3L315 307.4L306 309.9L288 312.8L249 313.7L210 317.6L192 318.2L162 316.3L96 308.9L60 305.7Z"/><path fill="#ffc240" d="M60 95L675 95L675 689L624.8 689L623.1 683L591 602.7L578 566L573.9 551L570.9 536L569.3 521L568.8 488L567.6 470L565.2 458L558.7 437L556.6 428L553.5 395L553 371L551.7 356L548.4 332L543.2 308L538.1 293L526.1 266L517.9 251L506.1 233L498 218.6L490.6 203L484.2 185L480.4 176L477 170.3L474 166.9L471 164.6L465 162L459 161.4L447 161.4L441 162.5L429 166.1L417 167.1L411 168.2L402 171.9L396.1 176L391.2 182L389 188L388.2 197L389.4 212L388.3 218L375 247.2L372 252.5L366.5 260L351.7 278L345 287.3L339.8 293L336 296L330 299.5L321 303.8L312 307.2L300 310L285 311.9L249 312.5L210 315.9L192 316.3L177 315.6L159.4 314L93 305.8L60 302.4Z"/><path fill="#ffc540" d="M60 95L675 95L675 689L628.9 689L627.2 683L588.9 590L582.4 572L577.7 557L574.6 545L572.3 533L570.8 518L570.1 482L569.3 470L567.1 458L560.1 434L558.8 428L555.8 395L555.3 371L554.2 356L550.6 332L545.4 308L540.6 293L528.3 266L520.2 251L507 230.9L499.5 218L492.2 203L481.9 176L478.6 170L474 164.6L468 160.6L462 158.8L456 158.4L447 159L429 164.5L417 165.5L411 166.7L402 170.2L396.8 173L393 176L388.3 182L386.2 188L385.5 197L386.7 212L385.6 218L373.8 245L370.6 251L343.5 287L339 292L333.8 296L328.5 299L312 306L300 308.9L285 310.8L246 311.3L210 314.2L192 314.5L177 313.7L159 311.9L60 299.1Z"/><path fill="#ffc840" d="M60 95L675 95L675 689L633 689L631.2 683L603 617.7L589.2 584L579 554L575.9 542L573.7 530L572 512L571.6 479L571 470L568.9 458L561 428L558.1 395L557.6 371L556.6 356L552.3 329L546.8 305L541.7 290L528.9 263L520.6 248L507 227.6L499.7 215L493.8 203L487.1 185L481.9 173L478.3 167L474 162L468 157.9L462 155.8L456 155.3L450 155.8L444 157.2L429 162.7L414 164.4L408 166.1L398.4 170L393.3 173L389.6 176L385.2 182L383.4 188L382.9 197L383.7 212L382.6 218L372.9 242L368.3 251L342 286.8L339 290.2L335.9 293L330 296.9L321 301.3L311.5 305L300 307.9L285 309.8L246 310.1L210 312.5L192 312.7L177 311.8L156 309.5L60 295.8Z"/><path fill="#ffcb40" d="M60 95L675 95L675 689L637.2 689L635.3 683L603 610.6L588.4 575L579.4 548L575 527L573.4 509L573.1 476L572.4 467L570.8 458L564.4 434L562.8 425L560.4 395L559.9 371L559 356L555.1 332L549 304.8L544.1 290L529.5 260L522 246.6L508.7 227L501 214L494.1 200L488.6 185L483 172.1L480 166.6L474 159.3L468 154.9L462 152.5L456 151.9L450 152.7L444 154.5L429 160.8L414 162.8L405 165.5L394.2 170L387 175.1L383.7 179L382.1 182L380.5 188L380.2 194L380.6 212L379.6 218L373.1 236L367.7 248L361.9 257L339 288.3L333 293.7L321 300.1L312 303.7L303 306.3L291 308.2L279 309L246 308.8L210 310.8L195 310.9L171 309.3L139.6 305L60 292.5Z"/><path fill="#ffce40" d="M60 95L675 95L675 689L641.4 689L639.5 683L603 603.8L588.6 569L580.7 545L576.3 524L574.7 506L574.4 470L572.6 458L566.6 434L565 425L563 398L562.1 368L561 353.3L556.1 326L550.4 302L545 287L531 258.8L523.2 245L510 225.9L501.7 212L495.7 200L488.8 182L483 168.9L480 163.6L474 156.3L471 153.7L465 150.1L459 148.5L453 148.7L444 151.6L429 158.7L411 161.8L399 165.8L390 169.9L384 174.4L380.2 179L378.1 185L377.5 194L377.6 212L376.7 218L373 230L366.9 245L359.7 257L338.5 287L331.9 293L324 297.5L312 302.5L303 305.2L294 306.8L282 307.8L243 307.5L213 309.1L198 309.2L177 307.9L153.8 305L60 289.2Z"/><path fill="#ffd240" d="M60 95L675 95L675 689L645.7 689L643.7 683L603 597.3L588.7 563L581.9 542L577.5 521L576 503L576.1 470L574.4 458L568.7 434L566.8 422L563.6 356L558.8 329L552 299.9L547.2 287L531 254.8L525 244.3L510.8 224L503.4 212L497.2 200L490.2 182L483 165.5L480 160.3L474 153L468 148.2L465 146.6L459 145L453 145L444 148.3L429 156.4L411 159.9L393 166L387 169L381.4 173L378 176.9L375.8 182L375 188L374.9 209L374 218L370.7 230L366.1 242L359.5 254L339.2 284L333 290.7L324 296.2L312 301.3L303 304.1L294 305.8L282 306.8L270 307L243 306.2L201 307.5L183 306.6L165 304.6L138 300.2L60 285.9Z"/><path fill="#ffd540" d="M60 95L675 95L675 689L650 689L647.9 683L606 597.5L597 577.5L589.9 560L583 539L580.2 527L578.6 518L577.4 503L577.8 470L576.2 458L570.7 434L568.9 422L565.9 356L561 329.3L553.9 299L549.4 287L531 251L525.7 242L512.8 224L504 209.9L497.4 197L491.7 182L483 161.9L480 156.8L474 149.4L468 144.6L462 142.1L456 141.2L450 142.1L444 144.8L432 152.2L426 155L411 157.9L390 164.8L384 167.9L377.3 173L374.8 176L372.8 182L372.2 209L370.8 221L367.4 233L363.9 242L355.5 257L337.6 284L331.9 290L324 295L314.9 299L303 303.1L294 304.8L282 305.8L270 306L243 304.9L201 305.8L186 305L171 303.4L138 298L60 282.5Z"/><path fill="#ffd840" d="M60 95L675 95L675 689L654.4 689L652.3 683L609 597.7L597 571.6L589.9 554L583.3 533L579.8 515L578.7 500L579.5 473L579.2 467L577.4 455L572.2 431L571.1 422L568.1 356L564 333.5L555.9 299L551.6 287L531 247.2L525.8 239L510.7 218L501.9 203L498 194.8L484.5 161L480 152.9L474 145.6L468 141L462 138.6L456 137.8L450 138.6L444 141.2L426.7 152L411 155.7L390 162.3L381 166.8L375 171.3L372 175.1L370.5 179L370 185L369.9 206L368.9 218L367 227L363 239L355.3 254L338.1 281L333 287.3L330 290L324 293.7L312 298.9L303 302L294 303.8L282 304.7L270 305L240 303.5L201 304.1L177 302.3L159 299.6L139.5 296L60 279.2Z"/><path fill="#ffdb40" d="M60 95L675 95L675 689L658.9 689L656.7 683L627 627.1L609 591.7L598.4 569L591 551L584.3 530L582 519.5L580.5 509L580 497L581.1 473L580.9 467L579.7 458L574.8 434L573.5 425L569.9 353L564 324.1L557.1 296L552.3 284L531.8 245L528 239L513 218.6L503.5 203L499.2 194L485.1 158L480 148.6L474 141.3L468 137.2L462 135.1L456 134.5L450 135.3L441 139.3L426 149.2L411 153.3L387 160.9L378 165.7L372.6 170L369 175.1L367.9 179L367.7 203L367 215L364.8 227L360.8 239L353.3 254L336.5 281L331.6 287L324 292.4L312 297.7L300 301.7L294 302.7L282 303.6L270 304L240 302.2L204 302.5L183 301.1L165 298.6L144 294.7L60 275.7Z"/><path fill="#ffde40" d="M60 95L675 95L675 689L663.4 689L661.1 683L630 626.2L612 591.9L600 567L591 545.2L585.3 527L581.9 509L581.4 497L582.7 473L582.6 467L581.4 458L575.5 425L572.1 353L567 328.4L559.1 296L554.3 284L533.8 245L530.1 239L513 215.8L504 200.8L499.5 191L484.6 152L480 143.5L474.5 137L468 133.3L462 131.7L453 131.5L447 132.9L438.6 137L423 146.9L387 158.3L378 162.8L372 167.2L369 170.4L367.3 173L366 176.7L365.4 182L365.6 200L364.8 215L362.7 227L358.7 239L351.4 254L336 279.3L330 286.7L324 291.1L313.3 296L300 300.6L294 301.7L279 302.8L267 302.9L243 300.9L207 301L186 299.6L168 297.1L144 292.5L66 273.4L60 272.3Z"/><path fill="#ffe140" d="M60 95L675 95L675 689L668.1 689L665.6 683L633 625.2L612 586.2L600 561.6L591 539.6L585.5 521L583 506L582.8 494L584.2 473L584.2 467L583.1 458L577.6 425L574.1 353L569.8 332L561.1 296L556.4 284L534.1 242L516 217.5L505.2 200L501 190.9L483 142.2L480.3 137L477.6 134L471 130.4L462 128.2L453 128.2L447 129.5L438 133.5L426 141.2L420 144.4L384 156.8L375 161.8L369 166.9L366 170.8L364 176L363.3 182L363.6 200L362.7 215L361.3 224L357.8 236L354.1 245L349.5 254L335.2 278L330 284.9L323.6 290L310.2 296L300 299.5L294 300.6L279 301.7L267 301.9L240 299.4L210 299.4L192 298.4L171 295.7L147 290.9L118.4 284L66 270L60 268.9Z"/><path fill="#ffe240" d="M60 95L675 95L675 689L674.3 689L663 670.7L636 624.2L618 592.1L601.7 560L596.3 548L591 534.1L586.4 518L584.4 506L584.1 494L585.8 473L585.8 467L584.8 458L579.6 425L578.4 392L576.1 353L572.5 335L563.8 299L561 290L558.4 284L536 242L532 236L516 214.8L510 205.5L505.3 197L494.7 170L487.4 146L484.4 134L482.4 131L476.6 128L465 125L456 124.6L447 126.1L438 129.7L423 138.7L417 141.7L384 154L375 159L369 163.7L364 170L361.9 176L361.3 182L361.5 203L360.7 215L358.5 227L354.7 239L347.6 254L333.5 278L330 282.9L327 286L321.1 290L307 296L300 298.4L294 299.5L276 300.8L267 300.8L243 298.1L210 297.8L195 297L174 294.3L147 288.7L116.8 281L66 266.6L60 265.4Z"/><path fill="#ffe440" d="M60 95L675 95L675 679.9L672 677.3L666 668.3L639 623.2L621 592L603 557.7L597 544.5L591.5 530L587.3 515L585.5 503L585.6 491L587.3 473L587.4 467L586.5 458L582.3 431L581.4 422L580.3 392L578 353L574.5 335L563.9 293L560.3 284L539.6 245L534 236L515.9 212L510 202.7L505.4 194L494.4 164L490 146L489 133.8L488.3 131L486.3 128L480 124.8L468 121.8L456 121.2L447 122.7L441 124.7L435 127.4L414 139L384 151.1L375 156.1L368.7 161L363 167.6L360.5 173L359.9 176L359.4 182L359.6 203L358.7 215L356.5 227L352.7 239L345.7 254L331.8 278L327.3 284L321 288.6L300 297.2L294 298.4L276 299.8L267 299.7L252 297.6L240 296.6L213 296.3L198 295.5L174 292.4L148.9 287L120 279.3L66 263.1L60 261.8Z"/><path fill="#ffe540" d="M60 95L675 95L675 672.4L672 669.8L666 661.1L639 617.2L621 586.6L603 552.8L597 539.5L592.2 527L588.8 515L586.9 503L586.9 491L588.8 473L588.9 467L588 456.5L583.4 422L580.2 356L577.2 338L569.9 308L565.7 293L562.2 284L541.4 245L536 236L516 209.4L507 193.9L499 173L495.3 161L492.4 146L491.7 131L490.5 128L489 125.9L486 123.6L482.8 122L474 119.4L468 118.3L456 117.8L444 120L432 125L409.6 137L381 149.6L372 155.3L366 160.6L361 167L358.5 173L357.7 179L357.8 200L357.2 212L355.3 224L351.9 236L345.4 251L332 275L327 282.2L321 287.2L306 293.8L297 296.8L273 298.9L267 298.6L243 295.4L201 294.1L177 291L150 285.1L120 276.7L66 259.6L60 258.2Z"/><path fill="#ffe740" d="M60 95L675 95L675 665.1L672 662.7L666 654.2L639 611.4L621 581.5L612 565.5L603 548L597 534.7L593 524L589.6 512L588.2 503L588.1 494L590.2 473L590.3 464L585.4 422L582.1 356L579.7 341L573.3 314L566.5 290L564 283.9L558 272.1L539.8 239L516 206.8L511.8 200L507.3 191L499.6 170L496.3 158L494.6 146L494.2 131L492 125.3L489 122.1L486 120.2L480 117.6L468 114.8L456 114.4L444 116.5L432 121L408 133.7L384 144.9L372 152.3L363 160.7L360 164.8L357.4 170L355.9 179L355.6 209L354.5 218L352.7 227L350 236L345 248L337.2 263L328.4 278L324 283.3L321 285.6L315 288.6L300 294.7L294 296.1L270 297.7L243 294L210 293L198 292.2L186 290.7L171 287.9L154.2 284L132.8 278L104.2 269L66 256.1L60 254.6Z"/><path fill="#ffe940" d="M60 95L675 95L675 658.2L672 655.8L666 647.5L642 610.5L624 581.5L606 549.4L599.6 536L594 522L590.4 509L589.4 500L589.5 491L591.7 473L591.9 464L587.1 419L583.9 356L581.6 341L576.7 320L568.2 290L561 274.2L541.7 239L537 232.1L519 208.6L513 199.2L508.9 191L501.2 170L498.6 161L496.8 149L496.4 131L495 126L492 121.5L489 118.9L483 115.5L477 113.3L471 111.9L459 110.8L447 112.1L438 114.7L427.8 119L384 141.7L372 149.3L366 154.5L360.2 161L357 166.1L355.4 170L354.2 179L354.3 197L353.8 209L352.7 218L350.8 227L347 239L343.2 248L335.4 263L326.5 278L324 281.2L320.8 284L315.2 287L300 293.4L294 294.7L270 296.6L243 292.5L213 291.6L198 290.5L186 288.9L171 286L151.1 281L131 275L103.9 266L66 252.4L60 250.9Z"/><path fill="#ffea40" d="M60 95L675 95L675 651.5L672 649.2L666 641.1L642 605L624 576.5L606 544.9L598.9 530L594.3 518L591.9 509L590.7 500L590.9 491L593.2 473L593.5 464L589.1 419L585.9 359L584.1 344L579.4 323L571 293L567.6 284L563.3 275L543.5 239L537.4 230L519 205.9L513.4 197L510.4 191L502.8 170L500.2 161L498.9 152L498.8 134L497.9 128L495.2 122L492 118.2L489 115.7L483 112.3L477 110L471 108.5L459 107.4L453 107.7L444 109.2L435 111.9L423 117.3L384 138.3L372 146.3L366 151.4L360 158L356 164L354 168.5L352.6 176L352.6 197L352.1 209L350.9 218L349 227L346.2 236L341.4 248L335.3 260L326.6 275L321.9 281L318 284L300 291.9L294 293.4L270 295.3L243 291.1L213 290.1L198 288.9L185.3 287L171 284.1L153 279.3L129.5 272L103.7 263L66 248.8L60 247.2Z"/><path fill="#ffec40" d="M60 95L675 95L675 645.1L672 642.8L666 634.9L642 599.7L624 571.7L606 540.5L600 528.1L595.9 518L593.3 509L592 500L592.2 491L594.7 473L595 464L590.8 416L587.7 359L585.4 341L581.3 323L571.7 290L568.1 281L563.6 272L543.5 236L520.9 206L516 198.6L512 191L504.4 170L501.9 161L500.7 152L500.8 134L500 128L497.8 122L495 118L492 114.9L483 109.1L477 106.7L471 105.1L459 103.9L453 104.1L444 105.5L432 109.1L417.3 116L387 133L372 143.1L366 148.2L360 154.7L355.6 161L352.7 167L351 176L351 197L350.3 209L349.1 218L347.1 227L343.3 239L339.6 248L333 260.9L324.6 275L321 279.5L318 282L300 290.4L294 291.9L270 294L243 289.6L213 288.5L198 287.2L186 285.3L171 282.1L150 276.2L128.2 269L103.7 260L66 245.1L60 243.4Z"/><path fill="#ffed40" d="M60 95L675 95L675 638.8L672 636.6L663 624.7L642 594.5L624 567.1L615 552.4L606 536.2L600 523.8L596.5 515L594 506L593.3 500L593.5 491L596.2 473L596.6 464L592.7 416L589.7 362L587.8 344L583.2 323L573.5 290L569.9 281L564 269.2L545.3 236L522 205L516.7 197L513.6 191L506 170L503.4 161L502.4 152L502.7 134L501.3 125L498 118.2L492 111.5L486 107.4L480 104.5L468 101.1L456 100.2L450 100.7L441 102.4L429 106.3L414 113.5L387 129.3L372 139.8L366 145L359.6 152L354 160.1L351 166.7L349.4 176L349.4 197L348.7 209L347.4 218L345.3 227L341.5 239L337.8 248L331.7 260L324 272.9L320 278L316.3 281L300 288.7L294 290.4L270 292.6L243 288.1L213 287L201 285.9L188.3 284L174 280.9L153.2 275L132 267.8L103.8 257L66 241.3L60 239.5Z"/><path fill="#ffef40" d="M60 95L452.3 95L444 96.9L429 102.2L411 110.8L396 119.7L381 129.5L372 136.4L363 144.8L357 151.9L354 156.4L351 162.1L349.2 167L347.9 176L347.3 206L346.2 215L344.3 224L340.8 236L337.3 245L331.5 257L324 269.7L320.2 275L315 279.6L300 286.9L291 289.1L270 291.1L243 286.6L216 285.6L201 284.3L189 282.4L174 279L153 272.7L132 265.2L104 254L66 237.4L60 235.5ZM461.4 95L675 95L675 632.8L672 630.6L663 619L642 589.4L624 562.6L615 548.1L606 532.1L600 519.7L596.2 509L594.6 500L594.5 494L597.7 473L598.1 461L594.5 416L590.8 353L589.1 341L585.8 326L578.2 299L573 284.1L564.2 266L547.2 236L522.4 203L515.2 191L507 168L505 161L504.1 152L504.5 131L503.4 125L501 118.9L498 114.2L495 110.8L492 108.1L486 104.1L477 99.7L468 96.5Z"/><path fill="#fff040" d="M60 95L432.6 95L428 98L405 109.9L381 125.7L366 138.3L360 144.7L354 152.8L349.7 161L347 170L345.7 206L343.9 218L341 230L336.8 242L332.7 251L327 261.6L320.2 272L317.6 275L312 279.3L303 283.8L297 286L291 287.3L270 289.4L243 285.1L216 284.1L204 283.1L189 280.6L174 277L156 271.5L133 263L104.3 251L66 233.5L60 231.5ZM477.9 95L675 95L675 626.9L672 624.8L666 617.5L645 588.8L627 562.7L609 533.6L603 522.2L598.6 512L596.2 503L595.7 497L596.1 491L599.3 473L599.7 461L596.2 413L593.1 359L590.5 338L583.6 311L579 296L574.7 284L570.7 275L564.4 263L547.1 233L522.1 200L518.4 194L515.5 188L506.6 161L505.8 152L506.5 131L505.5 125L503.5 119L500 113L495 107.2L489 102.4Z"/><path fill="#fff240" d="M60 95L421.5 95L418 98L393 113.1L375 126.5L363 137.8L357 144.9L352.2 152L347.9 161L345.5 170L344.1 206L342.8 215L340.1 227L336.2 239L332.4 248L327 258.3L320.1 269L315 274.7L312 277L300 283L291 285.5L270 287.7L243 283.6L216 282.6L204 281.5L189 278.9L174 275.1L155.3 269L132 260L104.7 248L66 229.5L60 227.4ZM485.6 95L675 95L675 621.2L672 619.2L666 612L648 588L630 562.8L612 534.9L604.3 521L600 511.4L597.6 503L597 497L597.5 491L601.2 470L601.1 458L594.4 353L592.3 338L588.8 323L578.8 290L573.9 278L568 266L549 233L526.2 203L518.5 191L509.9 167L507.7 158L507.5 152L508.6 134L508.2 128L506.9 122L504.6 116L500.9 110L495.5 104L488.3 98Z"/><path fill="#fff340" d="M60 95L412.4 95L409.4 98L387 113L372 125.3L360 137.6L354 145.5L350 152L346.1 161L344.1 170L342.8 203L341.2 215L339.2 224L335.6 236L332 245L327 255L320 266L315 272L312 274.6L306.5 278L300 281L294 282.9L288.2 284L270 285.8L243 282L216 281.1L204 279.9L189 277.1L174 273.1L153.3 266L131.3 257L98.9 242L66 225.3L60 223.2ZM491.4 95L675 95L675 615.7L672 613.7L666 606.7L645 579.2L630 558.4L612 531L606 520.5L600.7 509L598.5 500L598.4 494L602.5 473L602.9 461L596.2 353L594.2 338L591.5 326L580.5 290L575.8 278L570 266.3L550.9 233L525.9 200L521.9 194L518.9 188L510.6 164L509.3 158L509.2 152L510.6 134L510.3 128L509.2 122L507.1 116L503.9 110L501 105.9L493.5 98Z"/><path fill="#fff540" d="M60 95L404.3 95L401.7 98L384 111L369 124.1L357 137.6L351.2 146L348 151.8L344.5 161L342.7 170L341.2 203L340.1 212L337.5 224L333.9 236L330.3 245L325.6 254L320 263L315.2 269L312 272L306 276L300 278.8L294 280.8L288 282L270 284L240 280.2L219 279.8L207 278.8L192 276.1L176.8 272L156 264.7L130.7 254L99.8 239L66 221.1L60 218.8ZM496.2 95L675 95L675 610.3L672 608.3L666 601.5L645 574.6L630 554.2L612 527.2L606 516.8L601.2 506L599.8 500L599.8 494L604.1 473L604.6 464L598.2 356L596.6 341L594.2 329L582.3 290L577.6 278L571.7 266L552.8 233L527.9 200L523.8 194L520.6 188L512.4 164L511 158L510.9 152L512.7 134L512.4 128L511.5 122L509.7 116L506.9 110Z"/><path fill="#fff640" d="M60 95L397 95L394.7 98L375 114.2L363 126.4L354 137.8L348.9 146L345.9 152L343.7 158L341.6 167L339.7 203L337.3 218L334.1 230L331.1 239L327 248.1L321 258.4L315.3 266L312 269.3L308.6 272L303 275.3L297 277.8L291 279.4L279 281.3L270 282L261 281.4L240 278.7L222 278.5L210 277.6L194.9 275L177 270.1L156 262.4L130.3 251L100.7 236L66 216.8L60 214.4ZM500.5 95L675 95L675 605L672 603.1L666 596.4L645 570.1L630 550.1L612 523.6L606 513.3L602.7 506L601.2 500L601.1 494L605.8 473L606.2 464L604.7 431L599.8 353L598.5 341L596.1 329L584.1 290L579.4 278L573.6 266L552.8 230L529.9 200L525 192.8L522 186.9L514.2 164L512.7 158L512.8 152L514.8 134L514.3 125L513.1 119L509.7 110Z"/><path fill="#fff840" d="M60 95L390.4 95L388.3 98L369 115.7L360 125.8L351 138.3L345 149.3L342 157.7L340.2 167L338.5 200L337.5 209L335.7 218L332.5 230L329.4 239L325.2 248L321 255.2L315.3 263L312 266.6L306 271.3L300 274.4L294 276.5L288 277.9L273 279.9L267 280.1L240 277.1L222 277L210 276.1L195 273.3L177 268.1L155.8 260L130 248L101.7 233L66 212.3L60 209.8ZM504.5 95L675 95L675 599.9L672 598L666 591.5L645 565.7L630 546L612 520L606 509.7L603.2 503L602.5 500L602.5 494L607 476L608 467L606.7 449L606.4 431L605 413L601.6 353L600.4 341L598 329L585.9 290L581.2 278L575.6 266L555 230.4L531.9 200L525.9 191L523.2 185L516 163.7L514.6 158L514.7 152L516.9 134L516.6 125L515.5 119L512.5 110Z"/><path fill="#fffa40" d="M60 95L384.3 95L382.4 98L366 114.4L357 125.3L348 139L343.1 149L340.3 158L338.8 167L337 200L334.8 215L328.8 236L325 245L321 252.1L315.4 260L312 263.9L306 268.9L300.4 272L294 274.4L288 275.7L273 277.9L267 278.3L258 277.8L240 275.6L222 275.6L210 274.6L195 271.6L176.6 266L154.4 257L129.9 245L97.6 227L66 207.7L60 205.1ZM508.2 95L675 95L675 594.9L672 593L666 586.6L648 565.1L633 546L612 516.4L607.6 509L604.8 503L604 500L604 494L608.7 476L609.7 467L608.4 452L608.1 431L606.6 413L603.4 353L602.3 341L600.7 332L597.4 320L587.7 290L583 278L577.5 266L556.7 230L533.9 200L528 191L525.1 185L518.2 164L516.7 158L516.9 152L519.2 134L518.9 125L518 119L515.3 110Z"/><path fill="#fffb40" d="M60 95L378.6 95L376.9 98L363 113.2L354 125L346.7 137L341.1 149L339.3 155L337.7 164L335.6 200L333.9 212L330.9 224L327.2 236L324 243.4L319.7 251L315 257.7L310.1 263L306 266.5L300 270L294 272.2L288 273.5L273 275.9L264 276.5L240 274L222 274.2L210 273.1L195 269.9L177 264.1L153.3 254L129.9 242L99 224L66 203L60 200.2ZM511.8 95L675 95L675 590L672 588.2L666 581.9L648 560.7L633 542.1L615 517.4L609 508.1L606 501.6L605.3 497L605.5 494L610.5 476L611.4 467L609.9 452L609.8 431L608.3 413L605 350L604.2 341L602.6 332L599.3 320L589.4 290L584.9 278L579.4 266L558.7 230L536 200L530.2 191L527.2 185L520.4 164L519 158L519.1 152L521.5 134L521.3 125L520.5 119L518.2 110Z"/><path fill="#fffd40" d="M60 95L373.3 95L371.8 98L360 112L351 124.9L345 135.5L339.1 149L337.6 155L336.2 164L334.4 197L332.4 212L326.6 233L323 242L319.7 248L315 254.8L310.5 260L306 264L300 267.7L291 270.9L270 274.4L264 274.8L255 274.3L240 272.5L225 272.9L213 272L195 268.2L177 262.1L152.3 251L130 239L100.4 221L66 198L60 195.1ZM515.3 95L675 95L675 585.2L672 583.4L666 577.3L648 556.5L633 538.2L615 513.9L609 504.3L607.4 500L607.2 494L611.5 479L613.1 470L611.3 452L611.4 431L609.9 413L606.6 347L604.6 332L601.2 320L590.2 287L585.5 275L579.9 263L560.7 230L556.6 224L544.5 209L538 200L532.4 191L528.3 182L522.8 164L521.6 158L521.6 152L523.8 134L523.8 125L523.1 119L521 110Z"/><path fill="#fffe40" d="M60 95L368.4 95L367 98L357 111L349.8 122L343.3 134L338.3 146L336.5 152L335.1 161L333 197L330.9 212L325.1 233L321.2 242L318 247.7L313.4 254L309 258.9L303 263.8L297 266.9L291 268.8L270 272.5L261 273.1L240 271.1L225 271.5L213 270.5L195 266.5L176.9 260L157.3 251L130.3 236L101.9 218L66 192.9L60 189.9ZM518.7 95L675 95L675 580.4L672 578.7L666 572.7L636 538L618 514.5L612 505.7L609.3 500L608.8 497L609.1 494L613.3 479L614.8 470L612.7 452L612.8 428L611.5 413L608.2 344L606.6 332L604.2 323L592 287L587.4 275L581.9 263L560.8 227L546.5 209L538.2 197L533 188L530.5 182L526.1 167L524.3 158L524.3 152L526.3 134L526.3 125L525.7 119L523.8 110Z"/><path fill="#fdff40" d="M60 95L363.7 95L362.4 98L351 114.7L345 125.3L339.6 137L336 147.1L334.8 152L333.6 161L331.9 194L330.1 209L324 231.5L321 239L318 244.6L313.7 251L308.4 257L303 261.5L297 264.8L288 267.4L270 270.7L261 271.5L240 269.7L225 270.2L213 269.1L195 264.7L174.9 257L153 246.1L130.7 233L99.2 212L66 187.6L60 184.4ZM522.2 95L675 95L675 575.8L672 574.1L666 568.2L639 537.7L621 514.9L614.7 506L611.6 500L611.1 497L611.2 494L615.1 479L616.4 470L614.1 452L614.3 428L611 371L610.1 344L608.7 332L606.2 323L592.7 284L583.9 263L577.3 251L562.8 227L558.5 221L548.6 209L540.3 197L535.3 188L532.8 182L528.6 167L527 158L527.1 152L529 131L528.4 119L526.7 110Z"/><path fill="#faff40" d="M60 95L359.2 95L358.1 98L350.4 110L343.9 122L339 132.9L334.5 146L332.4 158L330.5 194L329.2 206L327.3 215L323 230L317.7 242L313.9 248L308.9 254L303 259.2L297 262.7L288 265.5L267 269.5L261 270L240 268.4L222 268.7L213 267.6L195.2 263L177 255.8L155.8 245L131.2 230L101 209L66 182L60 178.7ZM525.6 95L675 95L675 571.2L672 569.6L666 563.8L639 533.8L621.7 512L617.5 506L614.3 500L613.6 497L613.6 494L617.5 476L618 470L615.5 452L615.8 428L612.7 371L611.8 341L610.8 332L608.2 323L593.4 281L585 261.1L564.9 227L560.6 221L550.6 209L542.4 197L537.6 188L535.2 182L531.8 170L529.9 158L529.9 152L531.6 131L531.2 119L529.7 110Z"/><path fill="#f7ff40" d="M60 95L355 95L353.9 98L345.4 113L341.1 122L336 134.8L333 144.6L331.1 155L329.3 191L327.8 206L325.9 215L321.5 230L316 242L311.9 248L306.5 254L303 257L297 260.7L288 263.7L267 267.9L261 268.4L240 267.1L225 267.5L210 265.5L198 262.2L186 257.7L171.6 251L160.5 245L140.8 233L119 218L95.2 200L63 174L60 172.7ZM529 95L675 95L675 566.7L672 565.1L666 559.5L642 533.4L624.6 512L620.5 506L617.2 500L616.3 494L619.1 476L619.4 470L616.8 452L617.2 428L616.2 413L615.7 392L614.2 368L613.8 341L612.9 332L610.3 323L602.2 302L594 277.6L586.5 260L579.9 248L567 227L562.8 221L552.6 209L546.4 200L541.3 191L537.6 182L534.4 170L532.8 158L534.4 131L534 119L532.7 110Z"/><path fill="#f4ff40" d="M60 95L350.8 95L349.9 98L339 120.3L335 131L331.6 143L329.6 155L328 191L326.4 206L324.4 215L321 227L316 239L312 245.2L307.1 251L303 254.8L297 258.7L288 261.9L267 266.3L261 266.9L240 265.9L225 266.2L210 264L201 261.5L189.1 257L176.2 251L165 245L145.6 233L124.3 218L97.5 197L63 167.8L60 166.3ZM532.4 95L675 95L675 562.3L672 560.7L666 555.2L639 526L625.5 509L621.7 503L619.4 497L619 491L620.9 473L618.1 452L618.5 428L617.5 395L615.8 368L615.7 341L615 332L613.5 326L603 299.3L594.9 275L587.2 257L580.4 245L569.2 227L564.9 221L554.7 209L550.4 203L545.1 194L541.1 185L537.7 173L535.9 161L535.8 152L537.1 134L537.1 122L535.8 110Z"/><path fill="#f1ff40" d="M60 95L346.9 95L346 98L336 120.9L330.4 140L328.4 152L326.9 188L325 206L323 215L319.5 227L314.3 239L310.2 245L304.8 251L300 254.9L294 258.2L288 260.2L270 264.2L258 265.6L240 264.7L225 265L213 263.2L204 260.8L193.7 257L180.6 251L169.5 245L150.3 233L125.5 215L96.4 191L63 161.1L60 159.6ZM535.9 95L675 95L675 557.9L672 556.4L666 550.9L651 535.4L639 522L626.7 506L623.4 500L622.3 497L621.5 491L622.3 473L619.9 458L619.4 452L619.8 428L619 395L617.3 365L617.6 338L616.6 329L604.7 299L594.7 269L589.4 257L582.8 245L571.5 227L564.7 218L556.7 209L552.5 203L547.3 194L543.5 185L540.4 173L539.1 164L538.7 155L540.1 131L540.1 122L538.9 110Z"/><path fill="#eeff40" d="M60 95L343 95L333.9 119L329 137L326.8 152L325.7 185L324.1 203L320 221L317 230L314.3 236L310.6 242L306 247.5L302.3 251L297 254.7L288 258.5L270 262.6L261 264L228 263.9L216 262.4L207 260.1L198.3 257L189 253L177 246.8L154.8 233L142.2 224L126.8 212L99 188L63 154.1L60 152.5ZM539.4 95L675 95L675 553.6L672 552L666 546.7L642 521.5L630 506.2L625.3 497L624.1 491L623.8 473L620.8 455L621.1 431L620.7 398L619 368L619.6 335L618.8 329L616.7 323L606.4 299L597 269.9L590.1 254L583.4 242L573.9 227L567 218L558.9 209L554.6 203L549.7 194L546 185L543.2 173L542.1 164L541.8 155L543.2 131L543.2 122L542.1 110Z"/><path fill="#ebff40" d="M60 95L339.2 95L332.1 116L327.6 134L325.5 149L324.4 185L322.7 203L318.6 221L315.5 230L312.6 236L308.7 242L303.2 248L299.6 251L294 254.5L285 257.7L270 261.1L261 262.6L228 262.6L219 261.6L210 259.4L201 256.3L189.2 251L180 246.1L168.1 239L154.9 230L128.3 209L98.5 182L63 146.5L60 144.9ZM543 95L675 95L675 549.3L672 547.8L666 542.5L654 530.5L642 517.4L635.2 509L631.2 503L627.3 494L626.3 488L625.2 473L622.7 461L622.1 455L622.2 398L620.5 362L621.6 335L621 329L618.9 323L608.2 299L598.7 269L591 251.1L584.1 239L574.3 224L558 205L553.5 197L549.6 188L546.6 176L545.2 164L545 155L546.3 122L545.4 110Z"/><path fill="#e7ff40" d="M60 95L335.4 95L328.5 119L325 137L323.9 149L322.9 188L320.9 206L316.3 224L312 234.2L309 239.1L304 245L300 248.7L294 252.6L285 256.1L270 259.7L261 261.1L231 261.5L219 260.3L204 255.7L186 247.2L172.3 239L159.3 230L147.5 221L133.2 209L107.4 185L89.8 167L63 138.4L60 136.7ZM546.6 95L675 95L675 545L672 543.5L666 538.3L645 516.7L634.5 503L630 493.6L628.7 488L626.7 473L623.9 461L623.3 455L623.8 398L622.1 362L622.4 350L623.7 335L623.2 329L621.1 323L608.8 296L600.8 269L593.3 251L586.7 239L576.9 224L572.2 218L561 206.1L558.9 203L555.9 197L552.3 188L550.1 179L548.5 167L548.2 155L549.6 122L548.8 110Z"/><path fill="#e4ff40" d="M60 95L331.7 95L325.8 119L323 137L322.3 149L321.9 182L320 203L315.8 221L311 233L307.2 239L303 243.9L298.3 248L293.7 251L288 253.6L282 255.4L261 259.7L252 260.3L231 260.4L222 259.5L216 258.1L207 255.1L197.4 251L189 246.6L176.3 239L163.5 230L148.3 218L134.7 206L107.3 179L88 158L63 129.6L60 127.8ZM550.3 95L675 95L675 540.8L672 539.3L666 534.2L654 522.3L645 512.5L636 500.2L631.9 491L625.2 461L624.6 455L625.3 398L623.7 359L624.3 347L625.6 335L625.2 329L623.2 323L610.6 296L601.9 266L598.5 257L594.3 248L587.6 236L579.7 224L575 218L564 206.7L561.2 203L558.3 197L555.1 188L553.1 179L551.7 167L551.6 155L553 122L552.3 110Z"/><path fill="#e1ff40" d="M60 95L328.1 95L323.6 116L321.2 134L320.6 146L320.7 179L319.1 200L315.3 218L312.3 227L309.4 233L305.3 239L300 244.6L291 250.6L281.6 254L261 258.3L252 259L234 259.3L225 258.7L217.1 257L208.4 254L192 246.1L180.3 239L171.6 233L149.3 215L127.2 194L102.2 167L63 120L60 118ZM554.1 95L675 95L675 536.5L672 535.1L666 530L654 518.2L645.8 509L641.2 503L637.4 497L633 485.9L627 463.8L625.9 455L626.8 398L625.3 359L625.9 347L627.4 335L627.2 329L624 320.2L611.2 293L604.1 266L600.9 257L596.9 248L590.4 236L582.6 224L575.3 215L563.8 203L560.9 197L558.9 191L556.2 179L555 167L555 155L556.5 122L555.9 110Z"/><path fill="#deff40" d="M60 95L324.4 95L320.8 116L319.2 131L318.9 143L319.5 173L318.1 197L314.8 215L312 224L309 230.9L305.8 236L300.5 242L297 245L291 248.9L285 251.4L279 253.2L261 256.9L252 257.7L234 258.2L225 257.5L212.6 254L198 247.3L179.7 236L164.1 224L144.1 206L123.9 185L98.3 155L63 109.4L60 107.2ZM558 95L675 95L675 532.3L672 530.9L669 528.5L660 520.1L649.5 509L642.5 500L638.9 494L636.3 488L628.5 464L627.2 455L627.1 437L628.4 401L626.9 359L627.5 347L629.1 335L629 329L625.9 320L613 293L605.4 263L602.1 254L598 245L591.4 233L583.4 221L578.6 215L566.9 203L565 200L562.8 194L559.9 182L558.6 170L558.5 158L560.1 122L559.6 110Z"/><path fill="#dbff40" d="M62.3 95L320.7 95L318.2 113L317.1 128L317 143L318.2 170L317.1 194L315.4 206L313.4 215L310.6 224L307.9 230L303.9 236L300 240.4L291 247.1L281.5 251L261 255.5L246 256.7L234 257.1L228 256.7L216 253.7L207 249.9L198 245.2L183.5 236L168.1 224L151.6 209L134.4 191L118.9 173L100.1 149L78.4 119L63.9 98ZM562 95L675 95L675 528L672 526.6L669 524.3L660 515.9L651 506.3L645 498.6L639 488L629.9 464L628.8 458L628.3 443L629.9 401L628.5 359L628.8 350L630.8 335L630.7 329L630 325.8L627 318L614.9 293L613.1 287L610.1 272L607.7 263L604.6 254L600.7 245L594.4 233L588.7 224L582 215L570 202.1L567 197L566 194L563.4 182L562.2 170L562.2 158L563.8 122L563.4 110Z"/><path fill="#d8ff40" d="M71.7 95L317 95L315.2 113L314.7 125L315 140L316.8 167L316 191L314.6 203L312.8 212L309.1 224L306.3 230L303 234.8L299.2 239L294 243.3L288 246.9L276 251L258 254.6L237 255.9L228 255.5L222 254.2L216 252.1L201.3 245L187.3 236L172 224L156 209L139.3 191L122.1 170L104.3 146L76.2 104L72.7 98ZM566.1 95L675 95L675 523.8L672 522.4L663 514.5L654 505.2L647.4 497L640.4 485L633 467.6L630.7 461L630 455L629.5 440L631.4 401L630 359L630.4 350L632.4 335L632.3 329L630.8 323L628.5 317L615.8 290L610.1 263L607.1 254L603 244L597 232.2L590 221L583.2 212L572.8 200L571 197L568.9 191L567 182L566 170L566 158L567.6 122L567.3 110Z"/><path fill="#d4ff40" d="M80.2 95L313.2 95L312.3 110L312.1 125L312.9 140L315.3 164L315 187L313.7 200L311.4 212L307.6 224L304.7 230L300 236L297 238.9L288 245.2L282 247.7L276 249.4L255 253.6L237 254.8L226.5 254L216 250.5L199.9 242L186.9 233L172.5 221L157.4 206L141.6 188L125.4 167L108.8 143L84.4 104L81.1 98ZM570.3 95L675 95L675 519.5L672 518.1L663 510.2L654 500.7L648.8 494L642 482.7L632.5 461L631.6 455L630.8 440L632.8 401L631.6 359L632 350L633.9 335L633.4 326L628 311L617.8 290L612.5 263L609.8 254L605 242L595.4 224L588 213.2L577.5 200L575.5 197L573 191L571 182L569.9 170L569.9 158L571.6 122L571.4 110Z"/><path fill="#d1ff40" d="M88.6 95L309.4 95L309.3 122L310.5 137L313.7 161L313.9 182L312.7 197L310.7 209L307.3 221L303 230L300 233.8L294.4 239L290.4 242L285 244.9L273 248.7L255 252.2L237 253.6L228 253L222 251.3L216 248.8L203.4 242L190.5 233L176.4 221L161.6 206L146.4 188L130.9 167L115.2 143L94.1 107L89.5 98ZM574.6 95L675 95L675 515.2L672 513.8L666 508.7L657 499.5L651 492.1L642 477.3L634.4 461L633.3 455L632.1 440L634.3 401L633.2 356L633.8 347L635.5 335L635 326L630 310.7L620.2 290L615 263L612 252.7L607.9 242L603 231.6L597 221L580.4 197L576.6 188L574.8 179L574 167L575.7 122Z"/><path fill="#ceff40" d="M97 95L305.4 95L305.6 110L306.4 122L308.2 137L312 159.5L312.7 176L312 191L309.9 206L306.8 218L303 227.2L300 231.4L295.5 236L291 239.6L285 243.2L273 247.1L253.8 251L237 252.4L228 251.8L217.9 248L204 240.1L190.2 230L177 218L163.1 203L148.9 185L134.4 164L121.6 143L102.1 107L97.8 98ZM579.1 95L675 95L675 510.8L672 509.4L666 504.3L657 494.9L651.6 488L642 472.3L637.8 464L635.7 458L633.5 440L635.7 401L634.8 356L635.4 347L637.1 335L636.6 326L632.3 311L624 293L621.8 287L617.6 263L614.3 251L611 242L606 231L600.6 221L585.3 197L582.4 191L580.5 185L578.9 176L578.4 167L580 119Z"/><path fill="#cbff40" d="M105.3 95L301.3 95L303.1 119L305.3 134L310.2 158L311.1 167L311.3 176L310.6 191L308.5 206L305.3 218L301.3 227L299.1 230L294 235.1L288.9 239L283.7 242L270 246.2L252 249.8L237 251.2L231 251L228 250.4L219 246.8L205.7 239L193.7 230L180.8 218L167.3 203L153.6 185L139.9 164L127.9 143L111.4 110L107.2 101ZM583.6 95L675 95L675 506.4L672 504.9L666 499.8L654 486.4L648 477.7L642 467.5L638.9 461L637.1 455L635.1 443L635 437L637.1 404L636.4 353L638.7 335L638.3 326L636.2 317L633.3 308L624.5 287L619.6 260L614.1 242L606 224L588.7 194L586.3 188L584.7 182L583.3 173L582.9 164L584.4 119Z"/><path fill="#c8ff40" d="M113.8 95L297.1 95L298.5 110L300.9 125L309 160.8L309.8 173L309.4 188L307.6 203L303.7 218L299.4 227L296.9 230L291 235.3L285.8 239L282 240.9L264 246.1L254.8 248L246 249.1L234 249.9L228 248.9L219 245L204.9 236L190.5 224L178.9 212L166.7 197L156.3 182L143.6 161L132.7 140L119.2 110L115.5 101ZM588.4 95L675 95L675 501.9L672 500.5L664.8 494L657 485.4L651 477.3L642 462.2L639.3 455L636.8 443L636.5 437L638.7 401L638 353L640.3 335L640.1 326L635.6 308L627.4 287L622.5 260L617.2 242L609 222.6L593.8 194L589.7 182L588.2 173L587.7 164L589 119Z"/><path fill="#c5ff40" d="M122.3 95L292.6 95L294.2 107L297.8 125L306.7 158L307.8 164L308.4 173L307.8 191L306 204.1L302 218L300 222.7L297.3 227L294 230.4L288 235.3L282 239L279 240.2L261 245.2L243.3 248L234 248.5L228 247.4L217.3 242L208.2 236L194 224L182.7 212L171 197L161 182L149.1 161L139.1 140L128.1 113L123.8 101ZM593.2 95L675 95L675 497.3L672 495.9L669 493.5L663.5 488L657 480.5L651 472.4L645.8 464L642.8 458L639 445.3L638.2 437L640.1 404L640.3 377L639.6 353L642 335L641.8 326L638 308L629.7 284L625.4 260L620.5 242L613.5 224L598.9 194L596.6 188L594.2 179L593 170L592.6 161L593.7 119Z"/><path fill="#c2ff40" d="M131 95L287.8 95L289.3 104L292.9 119L304.8 158L306.7 170L306.7 185L305.3 200L303.3 209L301.4 215L297 224.3L294 227.8L288 233L279 238.2L270 241.1L258 244.2L243 246.5L234 247L228 245.7L219 240.9L207.7 233L194.5 221L184 209L173.1 194L162.3 176L153.2 158L144.3 137L135 110ZM598.3 95L675 95L675 492.7L672 491.2L665.2 485L657 475.6L651 467.3L645 456.6L642.2 449L640.7 443L640.1 437L641.5 407L642 377L641.3 353L641.8 347L643.8 335L643.8 326L640.4 308L632.9 284L628.5 260L624.8 245L618 225.5L604 194L599.5 179L598.2 170L597.6 158L598.7 116Z"/><path fill="#c0ff40" d="M140 95L282.6 95L283.7 101L289 119L303 158.5L305.1 170L305 188L303.3 203L299.7 215L297 220.8L294 225L285 232.6L276 237.3L255 243.2L237 245.4L231 244.9L225 242.3L215.1 236L207.4 230L195.2 218L185.5 206L175.5 191L165.6 173L157.6 155L150 134L143.9 113ZM603.5 95L675 95L675 488L672 486.5L666 481.1L660 474.3L654 466.5L647.2 455L644.7 449L642.4 440L642.4 422L643.9 374L643.1 353L643.6 347L645.7 335L645.9 329L645.5 323L642.9 308L636.1 284L631.1 257L627.4 242L621.4 224L609.2 194L604.9 179L603.6 170L602.8 158L603.8 116Z"/></g>
<path d="M97.4 364.4C97.2 362.6 98.3 361.9 100.1 359.8C101.9 357.7 105.1 353.4 108.3 351.6C111.5 349.8 115.1 348.8 119.2 348.8C123.3 348.8 127.4 350.8 132.9 351.6C138.4 352.4 145.2 353.5 152.1 353.5C158.9 353.5 166.2 353.1 174 351.6C181.8 350.1 190.4 347.9 198.6 344.7C206.8 341.5 215.4 337.2 223.2 332.4C230.9 327.6 239.4 321.2 245.1 316C250.8 310.8 255.1 304.9 257.4 300.9C259.7 296.9 259 294.5 258.8 292C258.6 289.5 258.7 287.8 256.2 286C253.7 284.2 248 283.2 243.9 281.1C239.8 279.1 234.6 277 231.6 273.7C228.6 270.4 226.9 265.7 226.1 261.4C225.3 257.1 227 252.2 226.6 247.7C226.2 243.1 225 238.6 223.4 234.1C221.8 229.6 218.2 223.8 217.1 220.4C216 217 215.8 216.5 217.1 213.5C218.4 210.5 221.1 206.5 224.7 202.6C228.2 198.7 233.8 193.7 238.4 190.3C243 186.9 248.4 185.2 252.1 182.1C255.8 179 257.6 174.4 260.3 171.7C263 169 264.4 166.8 268.5 165.7C272.6 164.6 279.9 165.8 284.9 165.1C289.9 164.4 294 163.5 298.6 161.6C303.2 159.7 307.3 155.6 312.3 153.4C317.3 151.2 322.8 149.2 328.7 148.7C334.6 148.2 340.9 149.5 347.8 150.6C354.7 151.7 364 154.8 370 155.5C376 156.2 378.2 155.5 383.7 154.7C389.2 153.9 396 152.4 402.8 150.6C409.6 148.8 418.5 145.8 424.7 143.8C430.9 141.8 434.7 140.7 440 138.6C445.3 136.5 451.5 133.2 456.4 131.2C461.3 129.1 465.4 127.8 469.5 126.3C473.6 124.8 477.8 123.2 481 122.2C484.2 121.2 487.4 120.9 489 120.6C490.6 120.3 490.3 120.3 490.9 120.5C491.5 120.7 491.4 120.8 492.5 121.5C493.6 122.2 495.3 123 497.5 124.6C499.7 126.2 503 128.9 505.7 131.2C508.4 133.5 510.9 135.9 513.9 138.6C516.9 141.3 520.7 144.4 523.7 147.6C526.7 150.8 528.9 153.9 531.9 157.5C534.9 161.1 538.5 165.4 541.8 169C545.1 172.6 548.6 175.5 551.6 178.8C554.6 182.1 557.2 184.6 560 188.6C562.8 192.6 565 197.7 568.6 202.9C572.2 208.1 577.1 214.3 581.4 220C585.7 225.7 590 230.7 594.3 237.1C598.6 243.5 603.2 252.2 607.1 258.6C611 265 615 270.4 617.9 275.7C620.8 281 622.6 286.9 624.3 290.7C626 294.5 625.9 296.3 628 298.5C630.1 300.7 634 301.5 636.9 303.7C639.8 305.9 643 308.2 645.1 311.9C647.2 315.5 648.3 320.1 649.2 325.6C650.1 331.1 649.5 337.9 650.6 344.7C651.7 351.5 654.4 359.8 656 366.6C657.6 373.5 659.4 381 660.2 385.8C661 390.6 660.9 391.7 660.7 395.3C660.5 398.9 659.9 403.4 658.8 407.6C657.7 411.8 655.9 417.1 654.3 420.6C652.7 424.1 650.7 425.9 649 428.5C647.3 431.1 645.8 433.2 644 436C642.2 438.8 640.2 442 638.5 445C636.8 448 635.2 450.8 633.7 454C632.2 457.2 630.8 460.6 629.5 464C628.2 467.4 627.4 471.3 626 474.6C624.6 477.9 622.7 481 621 484C619.3 487 618.7 489 615.7 492.6C612.7 496.2 608 501.5 602.9 505.4C597.8 509.2 591.3 511.8 584.9 515.7C578.5 519.6 570.3 524.5 564.3 528.6C558.3 532.7 553.6 535.8 548.9 540.1C544.2 544.4 539.9 549.4 536 554.3C532.1 559.2 529.1 565.9 525.7 569.7C522.3 573.6 519.3 575.4 515.4 577.4C511.5 579.4 506.6 579.5 502.4 581.5C498.2 583.5 493.3 585.8 490.1 589.1C486.9 592.4 485.3 597.5 483.2 601.4C481.1 605.3 480.4 609.4 477.7 612.4C475 615.4 471.8 617.8 466.8 619.2C461.8 620.6 453.5 620.4 447.6 620.6C441.7 620.8 435.8 621.5 431.2 620.6C426.6 619.7 423.3 617.4 420.3 615.1C417.3 612.8 414.8 610.5 413.4 606.9C412 603.2 412.4 599.1 412.1 593.2C411.8 587.3 412.2 576.8 411.5 571.3C410.8 565.8 410.4 564.5 408 560.4C405.6 556.3 400.4 552.2 397 546.7C393.6 541.2 390.5 534.4 387.5 527.6C384.5 520.8 381.9 512.5 379.2 505.7C376.4 498.8 374.2 492 371 486.5C367.8 481 364.2 476.4 360.1 472.8C356 469.2 352.3 466.6 346.4 464.6C340.5 462.6 332 463.2 324.7 461C317.4 458.8 309.6 455 302.8 451.4C296 447.8 289.2 442.8 283.7 439.1C278.2 435.5 274.6 433.1 270 429.5C265.4 425.9 261.1 419.9 256 417.2C250.9 414.5 246.9 414.7 239.6 413.1C232.3 411.5 221.4 409.9 212.3 407.6C203.2 405.3 193.6 402.3 184.9 399.4C176.2 396.4 168.1 392.8 160.3 389.9C152.6 386.9 144.3 383.2 138.4 381.7C132.5 380.2 129 380.4 124.7 380.8C120.4 381.2 115.1 383.9 112.4 383.8C109.7 383.7 110.1 382.5 108.3 380.3C106.5 378.1 103.3 373.4 101.5 370.7C99.7 368 97.6 366.2 97.4 364.4Z" fill="none" stroke="#ea1420" stroke-width="0.95" stroke-dasharray="3.9 1.7 0.8 1.7"/>
<g clip-path="url(#frame)" fill="none" stroke="#000" stroke-linejoin="round" stroke-linecap="round">
<g stroke-width="1.05" stroke="#111"><path d="M73.2 110.5L74 110.7L75.3 111L75.8 110.9L76.4 111.1L77.3 110.5L77.4 108.7L77.9 108.1L78.8 107L81 106.6L81.7 107.6L82.5 107.6L84.1 107.5L84.8 108.3L86.5 108.2L87 107.7L87.4 106.8L87.8 106.2L89.1 105.3L90 105.2L90.9 105.3L92.4 105.5L93.6 105.9L95 106.3L96.2 106.3L97.5 106.1L98.8 106.2L100.3 105.5L101.5 105.4L102.9 104.8L104.1 104.3"/><path d="M127.1 104L128.3 104.6L129.7 106L130.8 106.5L131.9 106.7L132.5 106.9L133.9 106.6L134.4 106.1L135.6 106L136.3 106.6L137.2 107.6L138.2 108.2L138.9 108.9L140.3 108.9L141.5 109L142.2 108.8L143.7 108.7L145.4 109.6L146.3 110.5L147.5 111.5L149.1 112.7L149.4 114.3L149.9 115.8L149.4 117L150.4 118.1L151.5 120.1L153 121.8L153.1 122L154.3 122.6L155.2 124.4L156.1 125.9L157.6 126.6L158.3 128.4L159.9 128.7L160.9 129.4L163.4 128.6L165 128.7L167.1 128.1L168.5 128.8L169.8 128.7L170.6 129.1L172 129.1"/><path d="M72.9 344.6L74.4 345.2L75.4 346.1L76.9 346.6L77.6 347.1L79 348.2L80.3 348.1L80.5 349.1L82.7 349.5L83.7 350.5L84.9 350.9L86 350.5L87.3 350.1L88.9 349.8L89.9 349.3L90.9 349.1L92.1 348.6L93.6 348L95 347.5L95.8 347.4L97 347.3L98.5 347.9L98.9 347.8L100.1 348.2L101.1 348.5L102.6 348.7L104.3 348.9L106 347.7L107.5 347.2L108.1 346.1L109 345.8L110 344.9L111.4 345.1L112.5 344.5L113.8 344.5L116.4 344.1L118.3 343.5L119.8 343.5L122 343.4L123.6 343.8L124.7 343.6L126.2 344.8L126.6 345.4L127 346.5L127.8 348.1L128.8 349.2L129.9 349.6L130.9 350.4L131.9 351.4L132.2 351.9L133.3 352.5L134.3 352.9L136.3 353.6L137.6 354.8L138.9 356L141.1 356.8L142.2 356.6L143.6 356.6L144 357.3L145.4 357.1L146.9 357.2L148.1 357.5L148.8 357.1L149.8 358L151 357.5L152.1 358.2L153.1 358.2L154.3 358.5L155.6 357.9L156.9 358.2L158.2 358.5"/><path d="M249.8 327.9L250.1 327.4L250.4 326.6L251.7 325.8L252 325.3L252.6 325.5L254.1 325.2L254.4 325.6L255.6 325.1L257.2 325.6L258.7 325.5L259.8 325.9L261.8 326.1L263.5 325.8L265.1 326.5L266.3 326.9L267.2 326.9L268.6 327.1L269.8 326.9L271.2 326.6L273.4 326.6L275.1 326.7L276.2 326.8L278 326.6L279.8 326.3L281.7 325.7L284.1 325.6L285.5 325.4L286.8 325.1L289.2 324L290.6 323.6L292.5 323L294 323.1L295.9 322.3L297.7 322.1L299.3 322.3L300.5 322.6L302.7 322.8L304.6 322.7L305.7 322.9L307.6 323.3L309.2 323.4L310.8 323L312.7 322.8L314.4 322.8L315.9 321.9L318 320.9L319.5 320.7L321.1 319.8L323.3 319L325.1 318.8L326.4 318.8L328.1 318.8L329.8 319.1L331.8 318.8L333.4 319.6L335.4 319.5L336.7 319.7L338.8 319.8L340.2 320.6L341.1 320.4L342.7 321L344.4 321.4L345.2 321L346.6 321.6L348.1 321.6L349.4 322.6L351 323.2L352.4 323.7L353.1 324.2L354.7 324.4L356.2 325.5L357.7 325.6L358.9 326.6L360.6 326.6L361.4 327.3L362.7 328L364.1 328.6L366 329.4L366.5 329.3L368 330.2L368.9 330.2L369.9 330.5L371.5 331.2L371.7 331.4L372.3 331.1L372.9 330.7L374.7 330.1L376 328.3L377.2 327.2L377.9 326.4"/><path d="M372.3 330.8L372.7 332.9L372.4 333.7L371.9 335L371.6 336.4L372.1 338.5L371.2 339.2L371.6 340.7L370.7 341.5L370.2 342.5L369.6 344.1L368.5 345.3L367.8 347L366.8 347.5L366.6 348.4L366.2 349.6L365.1 351.1L364.1 352.3L363.5 353.1L363.1 354.4L362 355.6L361.6 357.4L361.4 358.4L360.7 360L359.7 360.8L359.2 362.4L358.1 364.3L358.1 365.3L357.1 366.8L356.5 368L355.4 369L354.2 370.5L353.1 371.3L352.3 373.1L351.1 374.4L350.4 375.4L349.4 376.1L347.7 377.9L347.1 378.4L345.8 379.5L344 380.7L342.9 382.1L342.1 383.3L340.2 384.3L339.1 385.4L338.3 387.1L337.4 388.5L336.5 390.2L336.2 391.4L335.7 393L335 394.5L334.8 396.3L334.1 397.8L332.6 399.6L331.9 401.1L330.3 402.4L329.5 403.3L327.8 404.8L326.1 406.2L325 407.3L323.4 408L321.8 408.9L320.8 410.1L319 410.1L317.5 410.9L316.7 411.2L315.1 411.9L314 412L312 412.7L310.9 412.9L309.8 413.6L307.9 413.9L307 414.4L305 414.6L303.6 414.9L302.7 415.5L301.5 415.4L300.2 416.2L299.2 417.1L297.7 418.7L296.6 420L296 421.4L295.2 422.6L293.6 423.9L292.8 425.1L292.1 426.5L290.5 428.4L290.1 429L288.7 430.7L287.9 431.4L286.7 433L285.4 434.3L284.8 434.9L283.9 436.1L282.6 437.9L281.4 439.6L280.7 440.6L279.2 442.1L278.5 443.6L277.4 445.5L276.7 446L275.4 447.2L273.8 448L272.5 448.3L271.1 447.6L269.9 447.4L268.8 448L267.8 448.7L266 448.8L265.1 449.7L263.1 450.9L262 452.4L260.8 453.7L259.4 454.4L257.6 453.9L255.9 453.6L254.5 452.7L253.4 452.5L252 452L250.8 452.3L249.5 453.2L248.1 453.7L247.6 452.9L247 452.4L245.6 452.7L244.2 452.4L242.1 452.6L241.4 452.7L240 453.3L239 453.3L237.6 454.3L236.4 454.3L235.2 454.3L234.3 454.3L233.4 454.5L232.3 454.3L231.3 453.7L230.2 453.7L228.8 453.2L227.4 453.1L225.6 452.6L224.7 452L224.3 451.7L222.7 450.9L221.1 451.5L220.1 451.1L218.8 451.4L217.9 451.3L216.8 451.2L214.6 451.1L214.2 451.4L213.7 450.9L213.3 450.4L213.1 450.1L212.1 450.2L211.5 450.2L210.4 450.2L209.4 450.6L208.2 450.9L206.8 451.3L205.1 452.6L204.1 452.6L203.1 454.1L202.1 454.9L201.2 455.3L199.9 456L199.6 457.6L200.1 458.5L199.9 460.4L199.4 460.9L197.8 462L196.8 461.9L195 461.9L193.9 463.1L192.3 463.9L190.4 465L189.3 465.4L188.5 465.8L188.1 466.3L187.2 467L185.6 467.2L184.3 467.8L183.7 468L182.2 469L180.9 469.4L180.1 469.4L179 469.5L177.9 470.4L176.7 470.7L176.1 471.6L175.8 472.9L174.6 473.2L173.1 473.1L171.9 473.5L169.7 473.2L168.3 473.5L166.1 473.1L164.5 472.8L163.1 473.7L161.3 473.5L160.3 474L160.1 474.6L158.4 475.8L157.9 477.9L156.6 479.2L156.1 479.7L155.4 480.8L154 481.9L153 482.2L152.2 483.5L151.2 484.2L150.5 485.1L149.7 486L149.2 487.1L147.8 488.6L147.3 489.4L146.1 491.3L145 492.3L143.6 493.7L141.6 494.7L141 495.5L140.2 496.2L138.7 496.4L138 496.9L136.3 497.7L135.2 497.6L133.9 497.9L132.4 498.5L131.5 498.6L129.7 499L128.7 499.2L127.3 499.8L126 499.5L125.2 500.3L123.5 500L122.6 500.8L121.1 500.5L119.8 500.7L118.7 500.3L117.6 500.2L116 499.9L115.4 499.9L113.8 499.4L112.2 498.8L111.6 498.2L110.4 498.3L108.9 497.4L107.2 496.7L106.4 496.2L105.2 495.4L104 495.2L102.7 494L101 493.3L99.6 493.2L98.7 492.7L97.2 491.8L96.4 491.7L94.5 491L93.5 489.9L92.3 489.7L91 489.8L90.2 488.6L88.3 488L86.9 488.1L85.2 487.2L83.4 487L82.2 486.2L80.7 484.6L79.2 483.6L78.6 482.7L77.1 482.7L75.7 483.6L73.9 484.5L73.6 484.5"/><path d="M493.9 365.3L494.3 367.2L494.7 368.5L494.2 369.8L494.8 370.5L495 372.1L494.9 372.6L495.9 373.4L495.7 374.3L496.7 375.3L496.7 376.7L497.8 377.7L498.1 378.7L499 379.9L500.2 381.1L501 381.8L502.6 382.6L503.4 383.3L504.6 382.4L506.4 381L507.5 380.4L509.4 379.6L511 380.5L513 381.3L513.4 382.2L514.2 382.7L515.4 384.3L516.9 385.7L517 386.8L517.5 387.8L517.8 388.5L517.9 390.2L518.2 391.4L518.5 391.8L519.4 393.8L519.8 395.7L520.5 397.1L520.7 398.4L520.5 399.3L521 401L520.6 401.8L520.9 402.9L520 404.7L520.4 405.8L520 407.2L520.1 408.5L520.1 409.7L520.7 410.7L521.4 411.9L521.5 412.9L522.7 413.5L523.3 415.3L524.7 416.9L525 418.1L524.6 419.3L524.2 420.9L524.5 421.3"/><path d="M544.7 579.6L545.4 580.7L545.2 582.4L545.9 584.3L546.6 585.6L547.7 586.9L547.9 587.3L549.3 587.9L550.9 589.1L552.3 589.7L553.6 589.3L554.7 589.8L555.9 590.2L557.2 590L557.8 589.9L558.8 590.2L560.4 591.5L562.1 591.7L564.3 593L565.4 594L566.4 594.4L567.6 595.1L568.4 596.6L569 597.4L568.6 597.8L569 599L568.6 599.6L568.6 600.2L569.3 601.8L570.7 603.1L571.9 604L573.7 604.1L575.2 604.9L576.8 604.9L578.2 604.8L579.4 604.9L580.9 604.6L582.6 605L583.4 605.6L584.6 605.2L584.8 604.5L585.8 603.2L585.9 601.8L586.2 600.7L585.5 599.6L584.2 599L582.7 598.3L582.1 598.1L580.7 597.8L580.6 598.5L579.4 598.8L579.7 599.8L579.9 600.2L580.5 601.5L581.6 602.9L583.2 604.7L584.2 605.9L585.3 606.3L587.1 607.6L588.2 608.9L589.5 609.3L590.1 609.9L590.8 610.3L592.3 611.2L593 611.4L593.7 612.7L595.5 613.5"/><path d="M73.6 654.6L74.3 655.2L75.2 654.8L76.3 655.4L77.4 655.8L77.8 655.6L79.1 656.3L79.6 657.5L79.9 658L81 658.7L81.8 659.8L81.9 661.3L82.5 662.4L83.4 662.3L83.8 663.3L84.9 663.5L84.9 664.1"/><path d="M635.6 676.2L635.7 676.3L636.5 677.3L636.6 678L636.7 678.3"/></g>
<g stroke-width="1.15"><path stroke-width="0.9" fill="#000" d="M158.2 358.2L159.8 357.8L161.6 358L163.1 357.8L164.5 357.9L166.4 357.6L167.9 357.5L169.6 358.4L171.1 358.8L172.8 359.8L174 361.2L174.6 362.9L175.3 364.7L175.6 366.4L176.2 368L176.7 369.6L177.4 371.2L176.6 372.8L175.7 374.4L174.3 376.1L173.7 376.4L172.4 376.9L172.8 375.1L173.6 373.2L174.5 371.6L174.7 370.1L175.4 368.5L175.4 367.6L176 366L177.7 366L179.5 365.8L180.1 363.9L180.8 363L181.4 361.3L181.7 360.1L182.8 358.6L183.6 357.4L184.4 356.1L185.3 354.6L186.5 354.3L188.3 353.8L189.4 353.5L191.2 353.7L192.8 354L194.1 354L195.7 354.3L197.7 355L198.5 353.9L200 352.5L201 351.4L202.2 349.8L203.5 349.3L204.5 348.9L205.2 349.7L206.5 350.8L207.6 351.8L209.4 351.9L210.6 352L212.6 352.3L214.3 352.3L215.4 352.6L217.2 352.9L218.7 352.9L220.7 353.1L221 351.5L221.9 350.2L222.3 348.4L224.2 348.5L225.7 348.7L227.3 349L227.4 348.1L228.1 346.8L228.9 345.2L230.6 344.8L231.9 344.1L233.6 343L235.7 342.4L236.8 342L238 341.1L239.6 340.3L239.7 338.9L240.5 337.1L241 336.1L241 334.7L240.6 333.4L239.6 333.1L241.6 332L243.2 331.7L245.1 331L246.6 329.8L248.4 329.1L250.1 328.5L251.1 328.8L252.8 329.7L252.6 331L252.9 332.5L253.3 333.7L254.9 334L256.3 334.3L255.9 336.1L255.5 337.7L255.1 339.4L256.5 340.4L257.3 341.6L258.3 342.5L257.6 344.3L257.1 346L256.9 347.7L257.3 349L257.2 350.6L257.9 352.2L258.1 354.4L258 355.5L257.9 357.5L257.7 358.8L257.5 360.4L258.5 362.2L258.9 363.1L258 364L256.3 364.5L255.1 365.3L255.3 365.6L255.5 364.2L255.9 362.4L256.5 360.6L257.1 359.3L256.6 357.4L256.5 356L256.5 354.2L256.4 352.3L256 350.6L255.6 348.7L255.5 346.6L254.9 344.8L254.8 342.9L254.1 340.8L253.8 339.4L253.1 337.6L252.9 335.4L252.2 333.9L250.2 333.1L248.7 332.4L247.3 332L245.9 333.8L245.1 335.1L243.6 336.8L242.5 338.5L242 339.5L241.5 340.9L241.2 342.7L240.4 343.6L239.3 344.7L238.3 343.7L237.3 343.3L236.3 344.2L234.8 345.3L233.5 346.6L232.5 347.4L231 347.3L229.4 348.2L228.6 349.4L227.2 351.2L225.5 352.7L224.6 354L223.3 355.4L224.3 353.9L224.9 352.2L226.1 350.6L224.1 351.6L222.6 353L220.9 354L219.6 355.1L218 354.4L216 353.7L214.3 353.4L212.2 353.6L210.3 353.1L208.7 353.3L206.7 352.7L205.2 353.8L203.4 354.4L201.6 354.9L199.7 355.4L198.5 355.8L196.6 355.6L194.5 354.8L192.9 354.6L191.1 355.5L189 356.4L187.6 357.4L185.7 358.7L183.9 359.6L183 361.2L182 362.3L181.3 363.6L180.1 365.3L178.1 365.3L176.6 365.1L174.5 364.8L174.1 364.1L172.9 362.4L172.3 361.4L171.7 360.1L169.8 359.5L167.6 358.8L166.2 358.1L164.3 358.3L162.9 358.1L161.4 358.7L159.4 358.5L157.8 358.7Z"/><path stroke-width="1.5" d="M379.3 326.7L380.1 325L381.8 324.3L382.4 322.5L383.7 321.5L385 320.8L386.2 319.7L387.4 318.9L387.5 320L388.5 320.3L388.6 321.9L389.7 323.2L390.2 324.5L390.2 326.3L391.6 327.5L393 328L394.7 328.6L396 327.9L397.2 327.6L399 327.6L400.3 326.5L401.8 325.9L403.1 324.9L404.1 323.9L405.4 323.1L405.9 321.6L406.7 320.6L407.7 319.9L408.4 318.9L409.5 318.4L410.8 317.9L412.4 318.6L413.8 317.7L415.5 317.9L417.1 318.2L419 318.6L420.9 318.8L422.2 319.4L423.8 319.4L425.3 319.4L427.1 320.7L429.1 321.3L430.7 322.7L432.8 323.1L434.2 324.8L436.3 325.3L437 326.9L437.9 327.9L438 328.9L437.1 329.9L436.4 331.1L436.2 332.8L435.1 334L434.2 335.4L434.5 336.9L434.7 338.2L434.6 340.5L436 342.5L437.7 344.1L439 344.8L440.3 344.9L441.3 345.7L442.6 346L443.8 346.4L445.1 346.4L446.3 347.1L447.6 346.7L448.5 347.5L449.3 347.9L450.4 348.4L450.4 349.9L451.2 351L452.4 352.1L452.2 353.8L453 354.9L453.3 356L454.2 356.9L455.6 358.5L456.4 359.7L457.8 360.2L459.4 361L461.2 361.7L463.2 362.3L464.9 363.6L466.6 363.8L467.8 364.3L468.8 365.5L469.1 367L470.4 368.3L472.6 368.9L473.8 368.1L474.6 367.4L475.9 367.1L477.1 366.9L478.5 366.1L480.1 365.6L482 365.6L483.9 365.2L485.7 365.3L487.5 365L488.7 364.4L489.9 363.6L491.6 362.3L492.4 361.5L493.6 361.9L494.8 361.5L496 360.7L497.4 360.7L498.9 360.6L500.1 359.5L501.7 359.5L503.3 359.2L504.3 357.8L505.5 357L507 357.3L508.2 356.8L509.5 356.8L509.3 358L509.6 358.7L509.5 359.6L508.4 360.2L507.2 360.5L505.7 360.8L504.4 361L503.2 362L501.1 362.6L499.2 363.3L497.7 363.1L498.5 365.1L499.7 364.4L501.8 364.4L503.7 363.5L505 363.4L506.1 362.4L507.6 362.4L509.4 362.8L511.4 361L511.9 358.5L511.8 357L510.6 355.9L508.8 353.7L506.1 354.6L504.5 355.1L503.3 355.8L502 356.5L501.1 357.9L499.7 357.9L498.4 358.4L496.8 358L495.4 358.3L494.2 359.5L492.8 359.5L491.4 359.5L490.7 360.8L488.6 361.4L487.9 362.5L486.9 363L485.1 362.6L483.5 363L481.6 363.1L479.8 363.7L478.1 363.9L476.4 364.2L475.2 365.4L473.6 364.9L472.7 365.8L471.8 366.1L470.9 366.7L471 366.3L470.1 364.9L469.5 362.3L467.4 362L466 360.6L463.9 360.3L462 359.4L460.1 359.6L458.7 358.6L458.3 357.4L457.2 357.2L455.8 355.8L455.4 354.8L455.2 353.7L454.8 352.4L454.3 351.2L453.4 350L452.5 348.7L452 347.3L450.7 346.2L449.5 345.4L448.3 344.6L446.8 344.8L445.6 344.4L444.4 344.1L443.2 344L442.1 343.7L441.2 342.7L439.8 342.9L439.1 342L437.9 340.9L437.2 339.8L436.3 338.1L436.8 337L436.9 336.1L437.5 335L437.6 333.5L438.8 332.4L439.8 330.8L439.6 329.1L439.5 327.3L438.9 325.3L437.2 324.4L435.6 322.9L433.5 322L431.7 320.9L429.8 319.8L427.8 318.9L425.9 317.8L424.5 316.9L422.9 317.1L421.3 317L419.4 315.9L417.3 315.5L415.5 315.8L413.7 316.1L412.1 316.5L410.4 316.5L409.1 317.1L407.3 317.1L406.3 318.4L405.1 319.3L404.2 320.6L403.7 321.8L403.2 323L402.2 323.7L400.9 324.2L399.9 325.5L398.4 326L396.8 326.1L395.6 326L394.5 326.6L393.4 327L392.9 326.4L392 325.2L392 323.8L390.9 322.7L391.1 320.9L390.5 319L389.3 317.9L387.4 317.5L385.6 318.6L383.6 318.8L382.2 319.9L381 320.9L380.4 322.7L378.9 323.6L377.5 324.7L379.3 326.7"/><path stroke-width="1.5" d="M523 422.1L523.9 422.5L524.5 423.5L525.8 424.4L527.8 425.5L528.6 427L530 427.1L531.1 427.5L532.4 427.8L533.5 429.6L535.5 429.8L535.6 431.6L535.6 432.8L535.5 434.1L535.2 435.8L535 437.7L535 439.4L535 441.2L534.8 442.9L535.9 444.2L536.1 445.6L535.9 447L535.9 448.3L536.4 449.4L537 450.8L536 452.1L535.5 453.4L535.9 454.9L535.5 456.1L535.2 457.2L534.4 457.8L534.1 459L533.3 459.7L531.6 459.9L530.9 462.3L531.1 464.8L531.9 466L532.6 467.1L533.2 468.2L533.9 469.4L533.9 470.9L534.6 472.1L535.3 473.4L536.1 474.6L537.8 475L538.9 476L539.3 477.6L540.7 478.3L541.3 479.8L542.7 480.3L543.5 481.1L544.1 481.8L544.7 483.4L544.4 485.3L545.2 487.3L545.6 489.8L547.1 491.3L547.7 492.5L547.5 493.2L547.4 494.2L546.3 495.2L545.1 496.7L544.5 497.6L543.9 498.7L542 499.4L540.6 499.9L539 500.1L537.8 502.3L539.4 504.1L540.9 504.6L541.9 505.5L542.2 507.1L543.2 508L544.5 508.2L545.6 508.6L547.3 509.9L548.6 511.2L548.5 513.1L549.5 514.7L549.7 516.8L549.4 518.1L550.1 519.2L549.8 520.6L549.7 522L549.8 523.3L550.1 524.7L549.5 526L549.6 527.5L549 528.8L548.5 530.3L548.6 531.7L547.5 533.2L548.2 534.6L548.2 536L548.7 537.2L549.9 537.9L550.1 539.4L548.9 538.8L548.4 539.8L547.1 540L545.4 540.3L544.6 541.6L543.1 542.4L543.5 544.1L543.8 545.3L544.6 546.7L544.9 548L544.9 549.1L544.5 549.9L544.1 550.7L543.2 551.4L542.4 552.7L541.2 553.8L539.7 554.2L538.8 555.4L537.5 555.5L536.9 556.5L535.2 557.6L533.4 558.3L532.7 560.1L531.2 561.2L531 563.2L531.3 564.6L530.6 565.8L530.8 567.3L531.6 568.6L531.4 569.9L531.8 571.2L532.5 573.2L534.3 574.1L536.1 575.2L538.5 574.9L539 573.1L540.3 573.2L540.4 572.3L539.6 572.4L539.3 573.5L538.6 574.6L538.3 577L540.1 579L541.5 579.4L542.5 579.7L542.6 578.7L542.3 579.3L540.9 579.3L539.6 579.7L538.7 580.7L538 580.2L536.6 579.6L535.7 579.2L535.4 578L534.5 576.6L533.1 577.7L533.9 579.2L534.7 580L535.4 581.1L537.2 582.9L538.9 581.9L540.5 582.6L541.9 581.8L543.1 580.7L545.5 579.3L543.6 577.4L542.4 576.6L541.3 576.6L539.9 576.3L540.8 575.2L540.7 574.2L541 573L541.6 570.8L539.1 571L538.2 572L537.2 572.2L536 573.6L535.6 572.3L534.4 571.8L533.6 570.4L533.8 569.3L532.9 568.4L532.5 567.1L533.4 565.7L533.4 564.6L533.3 563.6L533.7 562.3L534.1 561.2L534.6 559.7L536.4 559.3L537.7 557.8L538.9 557.6L539.5 556.4L541 556L542.5 555.6L543.8 554.7L545.2 553.5L546.3 552.4L546.7 550.6L546.4 549L546.5 547.6L546.4 545.9L545.1 544.9L545.7 543.9L545.1 543.3L545.8 543.2L546.7 543L547.8 542.3L549.4 542.1L550.5 541.4L552.2 540.1L551.7 537.5L551.5 536.1L550.2 535.4L550.9 533.9L550 533.1L550.5 531.9L550 530.6L551.3 529.4L551.3 527.9L551.6 526.4L552.3 525L551.8 523.5L552.4 522L552.3 520.6L551.4 519.2L551.8 517.9L552.3 516.5L551.8 514.3L551.4 512.1L549.8 510.4L548.7 508.3L546.4 507.6L545.8 506.6L544.9 506L543.9 505.2L542.7 504.6L542.1 503.3L541 502.7L540.2 501.6L539.9 501.6L541.3 501.9L542.8 500.9L544.6 499.7L546.1 499.6L546.6 498.2L548.6 497.2L548.9 495.1L549.6 493.7L549.6 492L549 490L548.1 488L547.1 486.6L546.8 485.2L546.9 483.1L545.8 481L545 479.7L544.2 478.7L543.1 477.7L541.9 477L541.2 475.7L540.1 474.8L539.5 473.6L537.9 473.2L537.7 471.6L536.4 470.8L536.3 469.4L535.1 468.6L535 467.3L534.1 466.4L533.1 465.5L533.4 464.3L532.9 462.7L533.7 461.5L534.5 461L535.7 460.5L535.9 459L537.3 458.3L537.9 456.8L538.4 455.5L537.6 453.8L538.5 452.4L538.1 450.9L539 449.4L538.3 447.9L538 446.6L537.7 445.2L537.1 443.9L537.5 442.4L536.5 441.2L537.4 439.6L537.8 438L538.1 436.3L538.4 434.4L537.9 432.8L537.6 431.1L536.8 428.7L534.9 427.6L533.2 426.4L532.3 425.2L530.9 425.2L529.8 424.2L528.3 424.4L526.8 423L525.6 422.7L526.2 421.5L525.3 421.2L523 422.1"/></g>
<g stroke-width="1.7"><path d="M217.3 353.4L218.1 354.8L218.8 356.9L219 358.5"/><path d="M225.8 352.3L225.8 353.8L226.1 355.5L226.6 357.3L226.9 358.3"/><path d="M232.8 347.6L233.4 348.9L234.4 349.7L235.8 351.5"/><path d="M239 343.8L239.6 345L240 347.1L241.1 347.8L242.1 349.4"/><path d="M221.6 348.7L221.8 350.7L222 352.2"/><path d="M202.3 350.7L203.3 349.3L204.6 348.3"/><path d="M246.1 337.1L246.2 339.2L245.8 340.3L245 342.2L244.3 344.3L244 345.8"/><path d="M253.6 333.7L255.5 333.6L256.8 334.2"/><path d="M449.9 347.4L450 345.7L450.5 344L451.1 342.3L451 341.1L450.2 338.9L449.8 337.5L449.1 335.8L448.9 334.3L447.8 332.9L450 332.5L451.8 331.7L453.1 331.9L453.7 333.1L453.7 334.7L453.6 336.8L454.1 337.9L453.9 340.3L454.4 341.8L454.3 343.5L454.6 345.1L454.8 347.3L455.2 349.1L456.8 349L458.9 349.4L460.6 348.9"/><path d="M454.2 355.2L452.3 355.9L451.1 356.9L449.4 357.3L447.2 358.7L446 359.1L445.2 360.6L445.3 362L445 363.2"/><path d="M545.1 481.1L547 480.8L547.9 480.8"/><path d="M542.4 500.2L540.8 499.8L539.7 499.6L538.4 499.3L537 498L535.7 497.4L534.6 496.4L532.9 497.2L532.3 498.6L530.6 499.1"/><path d="M550.7 516.7L548.8 516.5L547.3 516.9L545.6 516.8L544.4 516.4L542.8 516.3L540.8 516.4L539 517.1L537.5 518.2L535.4 518.4L534.1 518.8L532 519.8L530.3 520L532 519.7L534.3 519.8L536.3 519.2L537.7 519.2L539.7 518.3"/><path d="M550.3 539.5L551.8 540.7L552.5 540.9"/><path d="M532.2 555.7L530.6 554.7L530 553.8L528.9 552.8L527.5 553.8L526.2 554.2L525.6 555.3L523.6 554.9L522.2 554.6L520.6 555.9L519.1 557.1L518.2 558.8L515.9 558.7L514.4 559.2L512.8 559.5L511.3 559.9L509.9 560.7L508.4 561.8L506.7 563.1L505.1 563.8L506.2 563.4L507.7 562.6L509.5 561.8L511.2 561.5L512.8 561.3L514.8 560.5L516 560.1L518.4 559.9"/></g>
<g stroke-width="1.25"><path d="M617.5 104.1L617.8 104.5L618.1 105L618.7 105.8L619.1 106.2L619.4 106.3L619.9 106.3L620.6 105.9L621 105.7L621.1 105.1L621.4 104.4L621.5 103.9L621.4 103.7L621.3 104.6L621.1 106.2L621.1 107.9L621 109.2L621 110.1L620.7 111L620.5 111.5L620.7 112L621 112.5L621.4 113.1L622.2 114.1L623.1 115L623.8 115.9L624.6 116.7L625.6 117.8L626.2 118.9L626.8 120L627.1 121.3L627.7 122.5L628 123.7L628.5 125L629.4 126.3L629.7 127.6L630.5 128.9L631 129.9L631.4 131.4L632.2 132.6L632.7 133.8L633.4 135.1L633.8 136.3L634 137.8L634.5 139.1L635 140.4L635.2 141.5L635.8 142.9L636.5 144.2L637 145.4L637.5 146.3L638.1 147.5L638.3 148.5L638.2 149L638 149.6L637.7 150.3L637.4 150.7L637 151.1L636.3 151.5L636 151.8L635.5 152.4L635.2 153L635.1 153.9L634.6 154.7L634.7 155.6L634.8 156.7L635 157.6L635.2 158.4L635.5 159.7L636.1 160.6L636.5 161.6L637.2 162.3L638.2 163.1L638.7 163.6L639.9 164.5L641 164.9L642.1 165.7L643.3 165.9L644.4 166.2L645.4 166.3L646.8 166.2L647.8 165.9L648.8 165.6L650.1 165.2L651.2 164.9L652.4 164.2L653.9 163.2L655.3 162.5L656.2 161.7L657.5 160.7L658.7 159.9L659.7 159L660.6 157.9L661.2 157.2L661.7 156.5L662.4 155.9L662.6 155.5"/><path d="M624.6 104.3L624.9 104.6L624.9 105.3L625.4 106.3L625.5 106.8L626 107.1L626.5 107.1L626.9 106.9L627.3 107.1L627.3 107.6L626.9 108.1L627 108.7L626.7 109.5L627.1 109.8L627.8 110.6L628.7 110.9L629.1 111.5L630 111.5L630.9 111.1L632 110.8L632.7 110.7L633.6 110.7L634.5 110.8L635.5 111.1L636.4 111.1L637.3 111.8L638 112.2L639.3 112.9L640 113.3L640.9 113.8L642 114.6L643.2 115.1L644.1 116L645 117.1L645.6 118L646.2 119.1L646.5 119.9L647.6 121.1L648.5 121.9L649.5 122.8L650.4 123.5L651.1 124.4L651.8 125.4L652.4 126.4L653.3 127.3L654 127.9L655 129.1L656.1 130L656.7 130.9L657.4 132L658.1 133L658.6 133.9L658.9 135L659.5 136L659.8 137.2L660.2 138.2L660.5 139L661.1 139.8L661.7 140L662.1 140.7L662.6 141.1"/></g>
<path d="M97.4 364.4L270 365.2L352.1 368.5L470 375.1L560 383.3L660.7 394.9" stroke-width="1.6" stroke-linecap="butt" stroke-dasharray="11 4 2.5 4"/>
</g>
<rect x="77.1" y="664" width="304" height="14.5" fill="#fff"/>
<text class="mono" x="78.6" y="674.6" style="font-size:12.5px" textLength="299" lengthAdjust="spacingAndGlyphs">Christian Heine,2007 - www.earthbyte.org</text>
<rect x="72.7" y="103.3" width="590.4" height="576.4" fill="none" stroke="#000" stroke-width="2.7"/>
<path d="M72.7 103.3v-6M72.7 679.7v6M72.7 103.3v-12M72.7 679.7v12M97.3 103.3v-6M97.3 679.7v6M121.9 103.3v-6M121.9 679.7v6M146.5 103.3v-6M146.5 679.7v6M171.1 103.3v-6M171.1 679.7v6M171.1 103.3v-12M171.1 679.7v12M195.7 103.3v-6M195.7 679.7v6M220.3 103.3v-6M220.3 679.7v6M244.9 103.3v-6M244.9 679.7v6M269.5 103.3v-6M269.5 679.7v6M269.5 103.3v-12M269.5 679.7v12M294.1 103.3v-6M294.1 679.7v6M318.7 103.3v-6M318.7 679.7v6M343.3 103.3v-6M343.3 679.7v6M367.9 103.3v-6M367.9 679.7v6M367.9 103.3v-12M367.9 679.7v12M392.5 103.3v-6M392.5 679.7v6M417.1 103.3v-6M417.1 679.7v6M441.7 103.3v-6M441.7 679.7v6M466.3 103.3v-6M466.3 679.7v6M466.3 103.3v-12M466.3 679.7v12M490.9 103.3v-6M490.9 679.7v6M515.5 103.3v-6M515.5 679.7v6M540.1 103.3v-6M540.1 679.7v6M564.7 103.3v-6M564.7 679.7v6M564.7 103.3v-12M564.7 679.7v12M589.3 103.3v-6M589.3 679.7v6M613.9 103.3v-6M613.9 679.7v6M638.5 103.3v-6M638.5 679.7v6M663.1 103.3v-6M663.1 679.7v6M663.1 103.3v-12M663.1 679.7v12M72.7 679.7h-6M663.1 679.7h6M72.7 646.1h-6M663.1 646.1h6M72.7 612.1h-6M663.1 612.1h6M72.7 612.1h-12M663.1 612.1h12M72.7 577.9h-6M663.1 577.9h6M72.7 543.4h-6M663.1 543.4h6M72.7 508.6h-6M663.1 508.6h6M72.7 473.5h-6M663.1 473.5h6M72.7 473.5h-12M663.1 473.5h12M72.7 438.1h-6M663.1 438.1h6M72.7 402.3h-6M663.1 402.3h6M72.7 366.2h-6M663.1 366.2h6M72.7 329.8h-6M663.1 329.8h6M72.7 329.8h-12M663.1 329.8h12M72.7 293h-6M663.1 293h6M72.7 255.8h-6M663.1 255.8h6M72.7 218.3h-6M663.1 218.3h6M72.7 180.3h-6M663.1 180.3h6M72.7 180.3h-12M663.1 180.3h12M72.7 142h-6M663.1 142h6M72.7 103.3h-6M663.1 103.3h6" stroke="#000" stroke-width="1" fill="none"/>
<g class="mono"><text x="72.7" y="715.2" text-anchor="middle">250°</text><text x="171.1" y="715.2" text-anchor="middle">252°</text><text x="269.5" y="715.2" text-anchor="middle">254°</text><text x="367.9" y="715.2" text-anchor="middle">256°</text><text x="466.3" y="715.2" text-anchor="middle">258°</text><text x="564.7" y="715.2" text-anchor="middle">260°</text><text x="663.1" y="715.2" text-anchor="middle">262°</text><text x="48.5" y="617.3" text-anchor="end">44°</text><text x="48.5" y="478.7" text-anchor="end">46°</text><text x="48.5" y="335" text-anchor="end">48°</text><text x="48.5" y="185.5" text-anchor="end">50°</text></g>
<rect x="72.7" y="724.5" width="590.4" height="17.6" fill="url(#cpt)" stroke="#000" stroke-width="2.3" stroke-linejoin="round"/>
<path d="M116.4 743.1v10.5M171.1 743.1v10.5M225.8 743.1v10.5M280.4 743.1v10.5M335.1 743.1v10.5M389.8 743.1v10.5M444.4 743.1v10.5M499.1 743.1v10.5M553.8 743.1v10.5M608.4 743.1v10.5M663.1 743.1v10.5" stroke="#000" stroke-width="1" fill="none"/>
<g class="mono"><text x="116.4" y="777" text-anchor="middle">50</text><text x="171.1" y="777" text-anchor="middle">75</text><text x="225.8" y="777" text-anchor="middle">100</text><text x="280.4" y="777" text-anchor="middle">125</text><text x="335.1" y="777" text-anchor="middle">150</text><text x="389.8" y="777" text-anchor="middle">175</text><text x="444.4" y="777" text-anchor="middle">200</text><text x="499.1" y="777" text-anchor="middle">225</text><text x="553.8" y="777" text-anchor="middle">250</text><text x="608.4" y="777" text-anchor="middle">275</text><text x="663.1" y="777" text-anchor="middle">300</text></g>
<text class="mono" x="678.4" y="738.8" style="font-size:14.8px">[km]</text>
<text class="sans" x="368.5" y="817.7" text-anchor="middle" font-size="16">Thickness</text>
<rect x="286.4" y="857.3" width="162.8" height="6.1" fill="#fff" stroke="#000" stroke-width="1"/><rect x="286.4" y="857.3" width="40.7" height="6.1" fill="#000"/><rect x="367.8" y="857.3" width="40.7" height="6.1" fill="#000"/><path d="M286.4 857v11.3M327.1 857v8M367.8 857v11.3M408.5 857v8M449.2 857v11.3" stroke="#000" stroke-width="1" fill="none"/>
<g class="mono"><text x="286.4" y="889" text-anchor="middle">0</text><text x="368.3" y="889" text-anchor="middle">125</text><text x="449.2" y="889" text-anchor="middle">250</text></g>
<text class="sans" x="368" y="912.6" text-anchor="middle" font-size="16">km</text>
</svg>
</body></html>
